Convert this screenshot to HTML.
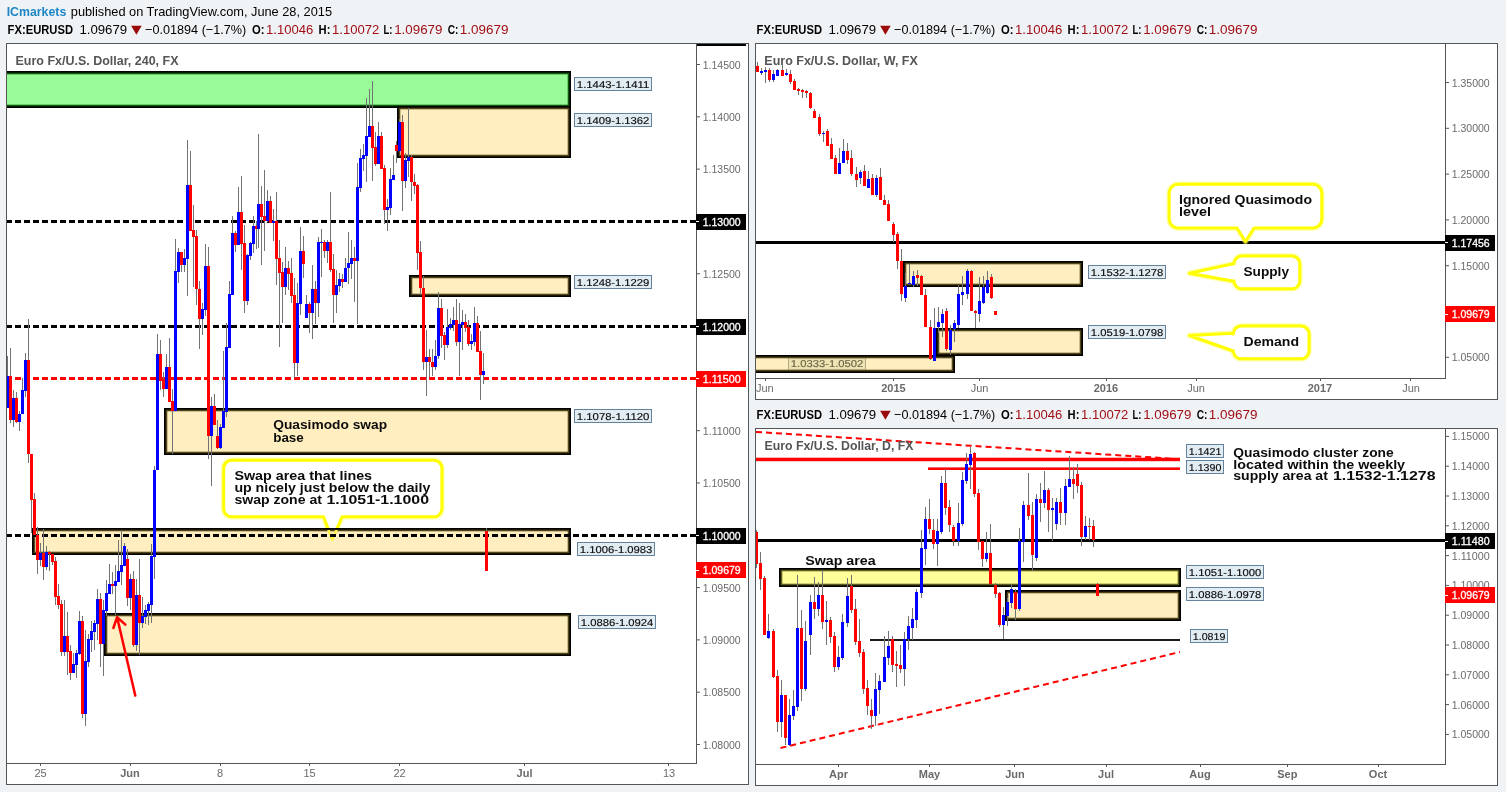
<!DOCTYPE html><html><head><meta charset="utf-8"><title>EURUSD</title><style>html,body{margin:0;padding:0;background:#f0f3f6;overflow:hidden}svg{display:block;will-change:transform;opacity:.999}text{font-family:"Liberation Sans",sans-serif;white-space:pre}</style></head><body>
<svg width="1506" height="792" viewBox="0 0 1506 792">
<rect x="0" y="0" width="1506" height="792" fill="#f0f3f6"/>
<text x="6.7" y="15.8" font-size="13" fill="#1c86c6" font-weight="bold" textLength="59.6" lengthAdjust="spacingAndGlyphs">ICmarkets</text>
<text x="70.8" y="15.8" font-size="13" fill="#000" textLength="261.2" lengthAdjust="spacingAndGlyphs">published on TradingView.com, June 28, 2015</text>
<text x="7.6" y="33.5" font-size="13" fill="#000" font-weight="bold" textLength="65.4" lengthAdjust="spacingAndGlyphs">FX:EURUSD</text>
<text x="79.4" y="33.5" font-size="13" fill="#000" textLength="47.8" lengthAdjust="spacingAndGlyphs">1.09679</text>
<path d="M131.1 25.7 h10.6 l-5.3 9 z" fill="#9b0a0a"/>
<text x="145" y="33.5" font-size="13" fill="#000" textLength="101.3" lengthAdjust="spacingAndGlyphs">&#8722;0.01894 (&#8722;1.7%)</text>
<text x="252" y="33.5" font-size="13" fill="#000" font-weight="bold" textLength="12.5" lengthAdjust="spacingAndGlyphs">O:</text>
<text x="266" y="33.5" font-size="13" fill="#a20e16" textLength="47.3" lengthAdjust="spacingAndGlyphs">1.10046</text>
<text x="318.6" y="33.5" font-size="13" fill="#000" font-weight="bold" textLength="11.8" lengthAdjust="spacingAndGlyphs">H:</text>
<text x="332" y="33.5" font-size="13" fill="#a20e16" textLength="47.3" lengthAdjust="spacingAndGlyphs">1.10072</text>
<text x="383.5" y="33.5" font-size="13" fill="#000" font-weight="bold" textLength="9" lengthAdjust="spacingAndGlyphs">L:</text>
<text x="394.2" y="33.5" font-size="13" fill="#a20e16" textLength="48.3" lengthAdjust="spacingAndGlyphs">1.09679</text>
<text x="447.7" y="33.5" font-size="13" fill="#000" font-weight="bold" textLength="10.7" lengthAdjust="spacingAndGlyphs">C:</text>
<text x="459.8" y="33.5" font-size="13" fill="#a20e16" textLength="48.7" lengthAdjust="spacingAndGlyphs">1.09679</text>
<text x="756.6" y="33.5" font-size="13" fill="#000" font-weight="bold" textLength="65.4" lengthAdjust="spacingAndGlyphs">FX:EURUSD</text>
<text x="828.4" y="33.5" font-size="13" fill="#000" textLength="47.8" lengthAdjust="spacingAndGlyphs">1.09679</text>
<path d="M880.1 25.7 h10.6 l-5.3 9 z" fill="#9b0a0a"/>
<text x="894" y="33.5" font-size="13" fill="#000" textLength="101.3" lengthAdjust="spacingAndGlyphs">&#8722;0.01894 (&#8722;1.7%)</text>
<text x="1001" y="33.5" font-size="13" fill="#000" font-weight="bold" textLength="12.5" lengthAdjust="spacingAndGlyphs">O:</text>
<text x="1015" y="33.5" font-size="13" fill="#a20e16" textLength="47.3" lengthAdjust="spacingAndGlyphs">1.10046</text>
<text x="1067.6" y="33.5" font-size="13" fill="#000" font-weight="bold" textLength="11.8" lengthAdjust="spacingAndGlyphs">H:</text>
<text x="1081" y="33.5" font-size="13" fill="#a20e16" textLength="47.3" lengthAdjust="spacingAndGlyphs">1.10072</text>
<text x="1132.5" y="33.5" font-size="13" fill="#000" font-weight="bold" textLength="9" lengthAdjust="spacingAndGlyphs">L:</text>
<text x="1143.2" y="33.5" font-size="13" fill="#a20e16" textLength="48.3" lengthAdjust="spacingAndGlyphs">1.09679</text>
<text x="1196.7" y="33.5" font-size="13" fill="#000" font-weight="bold" textLength="10.7" lengthAdjust="spacingAndGlyphs">C:</text>
<text x="1208.8" y="33.5" font-size="13" fill="#a20e16" textLength="48.7" lengthAdjust="spacingAndGlyphs">1.09679</text>
<text x="756.6" y="418.5" font-size="13" fill="#000" font-weight="bold" textLength="65.4" lengthAdjust="spacingAndGlyphs">FX:EURUSD</text>
<text x="828.4" y="418.5" font-size="13" fill="#000" textLength="47.8" lengthAdjust="spacingAndGlyphs">1.09679</text>
<path d="M880.1 410.7 h10.6 l-5.3 9 z" fill="#9b0a0a"/>
<text x="894" y="418.5" font-size="13" fill="#000" textLength="101.3" lengthAdjust="spacingAndGlyphs">&#8722;0.01894 (&#8722;1.7%)</text>
<text x="1001" y="418.5" font-size="13" fill="#000" font-weight="bold" textLength="12.5" lengthAdjust="spacingAndGlyphs">O:</text>
<text x="1015" y="418.5" font-size="13" fill="#a20e16" textLength="47.3" lengthAdjust="spacingAndGlyphs">1.10046</text>
<text x="1067.6" y="418.5" font-size="13" fill="#000" font-weight="bold" textLength="11.8" lengthAdjust="spacingAndGlyphs">H:</text>
<text x="1081" y="418.5" font-size="13" fill="#a20e16" textLength="47.3" lengthAdjust="spacingAndGlyphs">1.10072</text>
<text x="1132.5" y="418.5" font-size="13" fill="#000" font-weight="bold" textLength="9" lengthAdjust="spacingAndGlyphs">L:</text>
<text x="1143.2" y="418.5" font-size="13" fill="#a20e16" textLength="48.3" lengthAdjust="spacingAndGlyphs">1.09679</text>
<text x="1196.7" y="418.5" font-size="13" fill="#000" font-weight="bold" textLength="10.7" lengthAdjust="spacingAndGlyphs">C:</text>
<text x="1208.8" y="418.5" font-size="13" fill="#a20e16" textLength="48.7" lengthAdjust="spacingAndGlyphs">1.09679</text>
<g shape-rendering="crispEdges">
<rect x="6" y="43" width="743" height="742" fill="#555555"/>
<rect x="7" y="44" width="741" height="740" fill="#fff"/>
<rect x="696" y="43" width="1" height="721" fill="#555555"/>
<rect x="6" y="763" width="691" height="1" fill="#555555"/>
</g>
<svg x="7" y="44" width="689" height="719" viewBox="7 44 689 719">
<path d="M231.7 460.3 H433.9 A8 8 0 0 1 441.9 468.3 V508.8 A8 8 0 0 1 433.9 516.8 H342 L332.2 540 L323.6 516.8 H231.7 A8 8 0 0 1 223.7 508.8 V468.3 A8 8 0 0 1 231.7 460.3 Z" fill="none" stroke="#ffff66" stroke-opacity="0.55" stroke-width="5.5" stroke-linejoin="round"/>
<path d="M231.7 460.3 H433.9 A8 8 0 0 1 441.9 468.3 V508.8 A8 8 0 0 1 433.9 516.8 H342 L332.2 540 L323.6 516.8 H231.7 A8 8 0 0 1 223.7 508.8 V468.3 A8 8 0 0 1 231.7 460.3 Z" fill="#fff" stroke="#ffff00" stroke-width="3" stroke-linejoin="round"/>
<rect x="-5" y="71" width="576" height="37" fill="#000" shape-rendering="crispEdges"/>
<rect x="-3.3" y="72.7" width="572.6" height="33.6" fill="#0b5a0b"/>
<rect x="-1.7" y="74.3" width="569.4" height="30.4" fill="#98fb98"/>
<rect x="397" y="106" width="174" height="52" fill="#000" shape-rendering="crispEdges"/>
<rect x="398.7" y="107.7" width="170.6" height="48.6" fill="#54461a"/>
<rect x="400.3" y="109.3" width="167.4" height="45.4" fill="#ffefc0"/>
<rect x="409" y="275" width="162" height="22" fill="#000" shape-rendering="crispEdges"/>
<rect x="410.7" y="276.7" width="158.6" height="18.6" fill="#54461a"/>
<rect x="412.3" y="278.3" width="155.4" height="15.4" fill="#ffefc0"/>
<rect x="164" y="408" width="407" height="47" fill="#000" shape-rendering="crispEdges"/>
<rect x="165.7" y="409.7" width="403.6" height="43.6" fill="#54461a"/>
<rect x="167.3" y="411.3" width="400.4" height="40.4" fill="#ffefc0"/>
<rect x="32" y="528" width="539" height="27" fill="#000" shape-rendering="crispEdges"/>
<rect x="33.7" y="529.7" width="535.6" height="23.6" fill="#54461a"/>
<rect x="35.3" y="531.3" width="532.4" height="20.4" fill="#ffefc0"/>
<rect x="104" y="613" width="467" height="43" fill="#000" shape-rendering="crispEdges"/>
<rect x="105.7" y="614.7" width="463.6" height="39.6" fill="#54461a"/>
<rect x="107.3" y="616.3" width="460.4" height="36.4" fill="#ffefc0"/>
<clipPath id="cp1"><rect x="300" y="530" width="60" height="20"/></clipPath>
<path d="M342 516.8 L332.2 540 L323.6 516.8" fill="none" stroke="#fff04a" stroke-width="2.6" stroke-linejoin="round" clip-path="url(#cp1)"/>
<g shape-rendering="crispEdges">
<rect x="6" y="220" width="6" height="3" fill="#000"/>
<rect x="15" y="220" width="6" height="3" fill="#000"/>
<rect x="24" y="220" width="6" height="3" fill="#000"/>
<rect x="33" y="220" width="6" height="3" fill="#000"/>
<rect x="42" y="220" width="6" height="3" fill="#000"/>
<rect x="51" y="220" width="6" height="3" fill="#000"/>
<rect x="60" y="220" width="6" height="3" fill="#000"/>
<rect x="69" y="220" width="6" height="3" fill="#000"/>
<rect x="78" y="220" width="6" height="3" fill="#000"/>
<rect x="87" y="220" width="6" height="3" fill="#000"/>
<rect x="96" y="220" width="6" height="3" fill="#000"/>
<rect x="105" y="220" width="6" height="3" fill="#000"/>
<rect x="114" y="220" width="6" height="3" fill="#000"/>
<rect x="123" y="220" width="6" height="3" fill="#000"/>
<rect x="132" y="220" width="6" height="3" fill="#000"/>
<rect x="141" y="220" width="6" height="3" fill="#000"/>
<rect x="150" y="220" width="6" height="3" fill="#000"/>
<rect x="159" y="220" width="6" height="3" fill="#000"/>
<rect x="168" y="220" width="6" height="3" fill="#000"/>
<rect x="177" y="220" width="6" height="3" fill="#000"/>
<rect x="186" y="220" width="6" height="3" fill="#000"/>
<rect x="195" y="220" width="6" height="3" fill="#000"/>
<rect x="204" y="220" width="6" height="3" fill="#000"/>
<rect x="213" y="220" width="6" height="3" fill="#000"/>
<rect x="222" y="220" width="6" height="3" fill="#000"/>
<rect x="231" y="220" width="6" height="3" fill="#000"/>
<rect x="240" y="220" width="6" height="3" fill="#000"/>
<rect x="249" y="220" width="6" height="3" fill="#000"/>
<rect x="258" y="220" width="6" height="3" fill="#000"/>
<rect x="267" y="220" width="6" height="3" fill="#000"/>
<rect x="276" y="220" width="6" height="3" fill="#000"/>
<rect x="285" y="220" width="6" height="3" fill="#000"/>
<rect x="294" y="220" width="6" height="3" fill="#000"/>
<rect x="303" y="220" width="6" height="3" fill="#000"/>
<rect x="312" y="220" width="6" height="3" fill="#000"/>
<rect x="321" y="220" width="6" height="3" fill="#000"/>
<rect x="330" y="220" width="6" height="3" fill="#000"/>
<rect x="339" y="220" width="6" height="3" fill="#000"/>
<rect x="348" y="220" width="6" height="3" fill="#000"/>
<rect x="357" y="220" width="6" height="3" fill="#000"/>
<rect x="366" y="220" width="6" height="3" fill="#000"/>
<rect x="375" y="220" width="6" height="3" fill="#000"/>
<rect x="384" y="220" width="6" height="3" fill="#000"/>
<rect x="393" y="220" width="6" height="3" fill="#000"/>
<rect x="402" y="220" width="6" height="3" fill="#000"/>
<rect x="411" y="220" width="6" height="3" fill="#000"/>
<rect x="420" y="220" width="6" height="3" fill="#000"/>
<rect x="429" y="220" width="6" height="3" fill="#000"/>
<rect x="438" y="220" width="6" height="3" fill="#000"/>
<rect x="447" y="220" width="6" height="3" fill="#000"/>
<rect x="456" y="220" width="6" height="3" fill="#000"/>
<rect x="465" y="220" width="6" height="3" fill="#000"/>
<rect x="474" y="220" width="6" height="3" fill="#000"/>
<rect x="483" y="220" width="6" height="3" fill="#000"/>
<rect x="492" y="220" width="6" height="3" fill="#000"/>
<rect x="501" y="220" width="6" height="3" fill="#000"/>
<rect x="510" y="220" width="6" height="3" fill="#000"/>
<rect x="519" y="220" width="6" height="3" fill="#000"/>
<rect x="528" y="220" width="6" height="3" fill="#000"/>
<rect x="537" y="220" width="6" height="3" fill="#000"/>
<rect x="546" y="220" width="6" height="3" fill="#000"/>
<rect x="555" y="220" width="6" height="3" fill="#000"/>
<rect x="564" y="220" width="6" height="3" fill="#000"/>
<rect x="573" y="220" width="6" height="3" fill="#000"/>
<rect x="582" y="220" width="6" height="3" fill="#000"/>
<rect x="591" y="220" width="6" height="3" fill="#000"/>
<rect x="600" y="220" width="6" height="3" fill="#000"/>
<rect x="609" y="220" width="6" height="3" fill="#000"/>
<rect x="618" y="220" width="6" height="3" fill="#000"/>
<rect x="627" y="220" width="6" height="3" fill="#000"/>
<rect x="636" y="220" width="6" height="3" fill="#000"/>
<rect x="645" y="220" width="6" height="3" fill="#000"/>
<rect x="654" y="220" width="6" height="3" fill="#000"/>
<rect x="663" y="220" width="6" height="3" fill="#000"/>
<rect x="672" y="220" width="6" height="3" fill="#000"/>
<rect x="681" y="220" width="6" height="3" fill="#000"/>
<rect x="690" y="220" width="6" height="3" fill="#000"/>
<rect x="6" y="325" width="6" height="3" fill="#000"/>
<rect x="15" y="325" width="6" height="3" fill="#000"/>
<rect x="24" y="325" width="6" height="3" fill="#000"/>
<rect x="33" y="325" width="6" height="3" fill="#000"/>
<rect x="42" y="325" width="6" height="3" fill="#000"/>
<rect x="51" y="325" width="6" height="3" fill="#000"/>
<rect x="60" y="325" width="6" height="3" fill="#000"/>
<rect x="69" y="325" width="6" height="3" fill="#000"/>
<rect x="78" y="325" width="6" height="3" fill="#000"/>
<rect x="87" y="325" width="6" height="3" fill="#000"/>
<rect x="96" y="325" width="6" height="3" fill="#000"/>
<rect x="105" y="325" width="6" height="3" fill="#000"/>
<rect x="114" y="325" width="6" height="3" fill="#000"/>
<rect x="123" y="325" width="6" height="3" fill="#000"/>
<rect x="132" y="325" width="6" height="3" fill="#000"/>
<rect x="141" y="325" width="6" height="3" fill="#000"/>
<rect x="150" y="325" width="6" height="3" fill="#000"/>
<rect x="159" y="325" width="6" height="3" fill="#000"/>
<rect x="168" y="325" width="6" height="3" fill="#000"/>
<rect x="177" y="325" width="6" height="3" fill="#000"/>
<rect x="186" y="325" width="6" height="3" fill="#000"/>
<rect x="195" y="325" width="6" height="3" fill="#000"/>
<rect x="204" y="325" width="6" height="3" fill="#000"/>
<rect x="213" y="325" width="6" height="3" fill="#000"/>
<rect x="222" y="325" width="6" height="3" fill="#000"/>
<rect x="231" y="325" width="6" height="3" fill="#000"/>
<rect x="240" y="325" width="6" height="3" fill="#000"/>
<rect x="249" y="325" width="6" height="3" fill="#000"/>
<rect x="258" y="325" width="6" height="3" fill="#000"/>
<rect x="267" y="325" width="6" height="3" fill="#000"/>
<rect x="276" y="325" width="6" height="3" fill="#000"/>
<rect x="285" y="325" width="6" height="3" fill="#000"/>
<rect x="294" y="325" width="6" height="3" fill="#000"/>
<rect x="303" y="325" width="6" height="3" fill="#000"/>
<rect x="312" y="325" width="6" height="3" fill="#000"/>
<rect x="321" y="325" width="6" height="3" fill="#000"/>
<rect x="330" y="325" width="6" height="3" fill="#000"/>
<rect x="339" y="325" width="6" height="3" fill="#000"/>
<rect x="348" y="325" width="6" height="3" fill="#000"/>
<rect x="357" y="325" width="6" height="3" fill="#000"/>
<rect x="366" y="325" width="6" height="3" fill="#000"/>
<rect x="375" y="325" width="6" height="3" fill="#000"/>
<rect x="384" y="325" width="6" height="3" fill="#000"/>
<rect x="393" y="325" width="6" height="3" fill="#000"/>
<rect x="402" y="325" width="6" height="3" fill="#000"/>
<rect x="411" y="325" width="6" height="3" fill="#000"/>
<rect x="420" y="325" width="6" height="3" fill="#000"/>
<rect x="429" y="325" width="6" height="3" fill="#000"/>
<rect x="438" y="325" width="6" height="3" fill="#000"/>
<rect x="447" y="325" width="6" height="3" fill="#000"/>
<rect x="456" y="325" width="6" height="3" fill="#000"/>
<rect x="465" y="325" width="6" height="3" fill="#000"/>
<rect x="474" y="325" width="6" height="3" fill="#000"/>
<rect x="483" y="325" width="6" height="3" fill="#000"/>
<rect x="492" y="325" width="6" height="3" fill="#000"/>
<rect x="501" y="325" width="6" height="3" fill="#000"/>
<rect x="510" y="325" width="6" height="3" fill="#000"/>
<rect x="519" y="325" width="6" height="3" fill="#000"/>
<rect x="528" y="325" width="6" height="3" fill="#000"/>
<rect x="537" y="325" width="6" height="3" fill="#000"/>
<rect x="546" y="325" width="6" height="3" fill="#000"/>
<rect x="555" y="325" width="6" height="3" fill="#000"/>
<rect x="564" y="325" width="6" height="3" fill="#000"/>
<rect x="573" y="325" width="6" height="3" fill="#000"/>
<rect x="582" y="325" width="6" height="3" fill="#000"/>
<rect x="591" y="325" width="6" height="3" fill="#000"/>
<rect x="600" y="325" width="6" height="3" fill="#000"/>
<rect x="609" y="325" width="6" height="3" fill="#000"/>
<rect x="618" y="325" width="6" height="3" fill="#000"/>
<rect x="627" y="325" width="6" height="3" fill="#000"/>
<rect x="636" y="325" width="6" height="3" fill="#000"/>
<rect x="645" y="325" width="6" height="3" fill="#000"/>
<rect x="654" y="325" width="6" height="3" fill="#000"/>
<rect x="663" y="325" width="6" height="3" fill="#000"/>
<rect x="672" y="325" width="6" height="3" fill="#000"/>
<rect x="681" y="325" width="6" height="3" fill="#000"/>
<rect x="690" y="325" width="6" height="3" fill="#000"/>
<rect x="6" y="377" width="6" height="3" fill="#ff0000"/>
<rect x="15" y="377" width="6" height="3" fill="#ff0000"/>
<rect x="24" y="377" width="6" height="3" fill="#ff0000"/>
<rect x="33" y="377" width="6" height="3" fill="#ff0000"/>
<rect x="42" y="377" width="6" height="3" fill="#ff0000"/>
<rect x="51" y="377" width="6" height="3" fill="#ff0000"/>
<rect x="60" y="377" width="6" height="3" fill="#ff0000"/>
<rect x="69" y="377" width="6" height="3" fill="#ff0000"/>
<rect x="78" y="377" width="6" height="3" fill="#ff0000"/>
<rect x="87" y="377" width="6" height="3" fill="#ff0000"/>
<rect x="96" y="377" width="6" height="3" fill="#ff0000"/>
<rect x="105" y="377" width="6" height="3" fill="#ff0000"/>
<rect x="114" y="377" width="6" height="3" fill="#ff0000"/>
<rect x="123" y="377" width="6" height="3" fill="#ff0000"/>
<rect x="132" y="377" width="6" height="3" fill="#ff0000"/>
<rect x="141" y="377" width="6" height="3" fill="#ff0000"/>
<rect x="150" y="377" width="6" height="3" fill="#ff0000"/>
<rect x="159" y="377" width="6" height="3" fill="#ff0000"/>
<rect x="168" y="377" width="6" height="3" fill="#ff0000"/>
<rect x="177" y="377" width="6" height="3" fill="#ff0000"/>
<rect x="186" y="377" width="6" height="3" fill="#ff0000"/>
<rect x="195" y="377" width="6" height="3" fill="#ff0000"/>
<rect x="204" y="377" width="6" height="3" fill="#ff0000"/>
<rect x="213" y="377" width="6" height="3" fill="#ff0000"/>
<rect x="222" y="377" width="6" height="3" fill="#ff0000"/>
<rect x="231" y="377" width="6" height="3" fill="#ff0000"/>
<rect x="240" y="377" width="6" height="3" fill="#ff0000"/>
<rect x="249" y="377" width="6" height="3" fill="#ff0000"/>
<rect x="258" y="377" width="6" height="3" fill="#ff0000"/>
<rect x="267" y="377" width="6" height="3" fill="#ff0000"/>
<rect x="276" y="377" width="6" height="3" fill="#ff0000"/>
<rect x="285" y="377" width="6" height="3" fill="#ff0000"/>
<rect x="294" y="377" width="6" height="3" fill="#ff0000"/>
<rect x="303" y="377" width="6" height="3" fill="#ff0000"/>
<rect x="312" y="377" width="6" height="3" fill="#ff0000"/>
<rect x="321" y="377" width="6" height="3" fill="#ff0000"/>
<rect x="330" y="377" width="6" height="3" fill="#ff0000"/>
<rect x="339" y="377" width="6" height="3" fill="#ff0000"/>
<rect x="348" y="377" width="6" height="3" fill="#ff0000"/>
<rect x="357" y="377" width="6" height="3" fill="#ff0000"/>
<rect x="366" y="377" width="6" height="3" fill="#ff0000"/>
<rect x="375" y="377" width="6" height="3" fill="#ff0000"/>
<rect x="384" y="377" width="6" height="3" fill="#ff0000"/>
<rect x="393" y="377" width="6" height="3" fill="#ff0000"/>
<rect x="402" y="377" width="6" height="3" fill="#ff0000"/>
<rect x="411" y="377" width="6" height="3" fill="#ff0000"/>
<rect x="420" y="377" width="6" height="3" fill="#ff0000"/>
<rect x="429" y="377" width="6" height="3" fill="#ff0000"/>
<rect x="438" y="377" width="6" height="3" fill="#ff0000"/>
<rect x="447" y="377" width="6" height="3" fill="#ff0000"/>
<rect x="456" y="377" width="6" height="3" fill="#ff0000"/>
<rect x="465" y="377" width="6" height="3" fill="#ff0000"/>
<rect x="474" y="377" width="6" height="3" fill="#ff0000"/>
<rect x="483" y="377" width="6" height="3" fill="#ff0000"/>
<rect x="492" y="377" width="6" height="3" fill="#ff0000"/>
<rect x="501" y="377" width="6" height="3" fill="#ff0000"/>
<rect x="510" y="377" width="6" height="3" fill="#ff0000"/>
<rect x="519" y="377" width="6" height="3" fill="#ff0000"/>
<rect x="528" y="377" width="6" height="3" fill="#ff0000"/>
<rect x="537" y="377" width="6" height="3" fill="#ff0000"/>
<rect x="546" y="377" width="6" height="3" fill="#ff0000"/>
<rect x="555" y="377" width="6" height="3" fill="#ff0000"/>
<rect x="564" y="377" width="6" height="3" fill="#ff0000"/>
<rect x="573" y="377" width="6" height="3" fill="#ff0000"/>
<rect x="582" y="377" width="6" height="3" fill="#ff0000"/>
<rect x="591" y="377" width="6" height="3" fill="#ff0000"/>
<rect x="600" y="377" width="6" height="3" fill="#ff0000"/>
<rect x="609" y="377" width="6" height="3" fill="#ff0000"/>
<rect x="618" y="377" width="6" height="3" fill="#ff0000"/>
<rect x="627" y="377" width="6" height="3" fill="#ff0000"/>
<rect x="636" y="377" width="6" height="3" fill="#ff0000"/>
<rect x="645" y="377" width="6" height="3" fill="#ff0000"/>
<rect x="654" y="377" width="6" height="3" fill="#ff0000"/>
<rect x="663" y="377" width="6" height="3" fill="#ff0000"/>
<rect x="672" y="377" width="6" height="3" fill="#ff0000"/>
<rect x="681" y="377" width="6" height="3" fill="#ff0000"/>
<rect x="690" y="377" width="6" height="3" fill="#ff0000"/>
<rect x="6" y="534" width="6" height="3" fill="#000"/>
<rect x="15" y="534" width="6" height="3" fill="#000"/>
<rect x="24" y="534" width="6" height="3" fill="#000"/>
<rect x="33" y="534" width="6" height="3" fill="#000"/>
<rect x="42" y="534" width="6" height="3" fill="#000"/>
<rect x="51" y="534" width="6" height="3" fill="#000"/>
<rect x="60" y="534" width="6" height="3" fill="#000"/>
<rect x="69" y="534" width="6" height="3" fill="#000"/>
<rect x="78" y="534" width="6" height="3" fill="#000"/>
<rect x="87" y="534" width="6" height="3" fill="#000"/>
<rect x="96" y="534" width="6" height="3" fill="#000"/>
<rect x="105" y="534" width="6" height="3" fill="#000"/>
<rect x="114" y="534" width="6" height="3" fill="#000"/>
<rect x="123" y="534" width="6" height="3" fill="#000"/>
<rect x="132" y="534" width="6" height="3" fill="#000"/>
<rect x="141" y="534" width="6" height="3" fill="#000"/>
<rect x="150" y="534" width="6" height="3" fill="#000"/>
<rect x="159" y="534" width="6" height="3" fill="#000"/>
<rect x="168" y="534" width="6" height="3" fill="#000"/>
<rect x="177" y="534" width="6" height="3" fill="#000"/>
<rect x="186" y="534" width="6" height="3" fill="#000"/>
<rect x="195" y="534" width="6" height="3" fill="#000"/>
<rect x="204" y="534" width="6" height="3" fill="#000"/>
<rect x="213" y="534" width="6" height="3" fill="#000"/>
<rect x="222" y="534" width="6" height="3" fill="#000"/>
<rect x="231" y="534" width="6" height="3" fill="#000"/>
<rect x="240" y="534" width="6" height="3" fill="#000"/>
<rect x="249" y="534" width="6" height="3" fill="#000"/>
<rect x="258" y="534" width="6" height="3" fill="#000"/>
<rect x="267" y="534" width="6" height="3" fill="#000"/>
<rect x="276" y="534" width="6" height="3" fill="#000"/>
<rect x="285" y="534" width="6" height="3" fill="#000"/>
<rect x="294" y="534" width="6" height="3" fill="#000"/>
<rect x="303" y="534" width="6" height="3" fill="#000"/>
<rect x="312" y="534" width="6" height="3" fill="#000"/>
<rect x="321" y="534" width="6" height="3" fill="#000"/>
<rect x="330" y="534" width="6" height="3" fill="#000"/>
<rect x="339" y="534" width="6" height="3" fill="#000"/>
<rect x="348" y="534" width="6" height="3" fill="#000"/>
<rect x="357" y="534" width="6" height="3" fill="#000"/>
<rect x="366" y="534" width="6" height="3" fill="#000"/>
<rect x="375" y="534" width="6" height="3" fill="#000"/>
<rect x="384" y="534" width="6" height="3" fill="#000"/>
<rect x="393" y="534" width="6" height="3" fill="#000"/>
<rect x="402" y="534" width="6" height="3" fill="#000"/>
<rect x="411" y="534" width="6" height="3" fill="#000"/>
<rect x="420" y="534" width="6" height="3" fill="#000"/>
<rect x="429" y="534" width="6" height="3" fill="#000"/>
<rect x="438" y="534" width="6" height="3" fill="#000"/>
<rect x="447" y="534" width="6" height="3" fill="#000"/>
<rect x="456" y="534" width="6" height="3" fill="#000"/>
<rect x="465" y="534" width="6" height="3" fill="#000"/>
<rect x="474" y="534" width="6" height="3" fill="#000"/>
<rect x="483" y="534" width="6" height="3" fill="#000"/>
<rect x="492" y="534" width="6" height="3" fill="#000"/>
<rect x="501" y="534" width="6" height="3" fill="#000"/>
<rect x="510" y="534" width="6" height="3" fill="#000"/>
<rect x="519" y="534" width="6" height="3" fill="#000"/>
<rect x="528" y="534" width="6" height="3" fill="#000"/>
<rect x="537" y="534" width="6" height="3" fill="#000"/>
<rect x="546" y="534" width="6" height="3" fill="#000"/>
<rect x="555" y="534" width="6" height="3" fill="#000"/>
<rect x="564" y="534" width="6" height="3" fill="#000"/>
<rect x="573" y="534" width="6" height="3" fill="#000"/>
<rect x="582" y="534" width="6" height="3" fill="#000"/>
<rect x="591" y="534" width="6" height="3" fill="#000"/>
<rect x="600" y="534" width="6" height="3" fill="#000"/>
<rect x="609" y="534" width="6" height="3" fill="#000"/>
<rect x="618" y="534" width="6" height="3" fill="#000"/>
<rect x="627" y="534" width="6" height="3" fill="#000"/>
<rect x="636" y="534" width="6" height="3" fill="#000"/>
<rect x="645" y="534" width="6" height="3" fill="#000"/>
<rect x="654" y="534" width="6" height="3" fill="#000"/>
<rect x="663" y="534" width="6" height="3" fill="#000"/>
<rect x="672" y="534" width="6" height="3" fill="#000"/>
<rect x="681" y="534" width="6" height="3" fill="#000"/>
<rect x="690" y="534" width="6" height="3" fill="#000"/>
</g>
<g shape-rendering="crispEdges">
<rect x="7" y="356" width="1" height="52" fill="#737375"/>
<rect x="10" y="348" width="1" height="75" fill="#737375"/>
<rect x="13" y="390" width="1" height="37" fill="#737375"/>
<rect x="16" y="392" width="1" height="31" fill="#737375"/>
<rect x="19" y="411" width="1" height="20" fill="#737375"/>
<rect x="22" y="378" width="1" height="36" fill="#737375"/>
<rect x="25" y="353" width="1" height="44" fill="#737375"/>
<rect x="28" y="319" width="1" height="144" fill="#737375"/>
<rect x="31" y="454" width="1" height="79" fill="#737375"/>
<rect x="34" y="493" width="1" height="42" fill="#737375"/>
<rect x="37" y="527" width="1" height="47" fill="#737375"/>
<rect x="40" y="543" width="1" height="23" fill="#737375"/>
<rect x="43" y="529" width="1" height="51" fill="#737375"/>
<rect x="46" y="546" width="1" height="24" fill="#737375"/>
<rect x="49" y="551" width="1" height="20" fill="#737375"/>
<rect x="52" y="554" width="1" height="11" fill="#737375"/>
<rect x="55" y="557" width="1" height="48" fill="#737375"/>
<rect x="58" y="584" width="1" height="25" fill="#737375"/>
<rect x="61" y="600" width="1" height="56" fill="#737375"/>
<rect x="64" y="600" width="1" height="56" fill="#737375"/>
<rect x="67" y="612" width="1" height="63" fill="#737375"/>
<rect x="70" y="645" width="1" height="35" fill="#737375"/>
<rect x="73" y="653" width="1" height="20" fill="#737375"/>
<rect x="76" y="650" width="1" height="28" fill="#737375"/>
<rect x="79" y="611" width="1" height="44" fill="#737375"/>
<rect x="82" y="616" width="1" height="102" fill="#737375"/>
<rect x="85" y="630" width="1" height="96" fill="#737375"/>
<rect x="88" y="634" width="1" height="33" fill="#737375"/>
<rect x="91" y="621" width="1" height="31" fill="#737375"/>
<rect x="94" y="620" width="1" height="30" fill="#737375"/>
<rect x="97" y="589" width="1" height="51" fill="#737375"/>
<rect x="100" y="593" width="1" height="74" fill="#737375"/>
<rect x="103" y="600" width="1" height="76" fill="#737375"/>
<rect x="106" y="580" width="1" height="36" fill="#737375"/>
<rect x="109" y="564" width="1" height="30" fill="#737375"/>
<rect x="112" y="572" width="1" height="22" fill="#737375"/>
<rect x="115" y="565" width="1" height="50" fill="#737375"/>
<rect x="118" y="540" width="1" height="42" fill="#737375"/>
<rect x="121" y="530" width="1" height="55" fill="#737375"/>
<rect x="124" y="543" width="1" height="23" fill="#737375"/>
<rect x="127" y="549" width="1" height="57" fill="#737375"/>
<rect x="130" y="574" width="1" height="36" fill="#737375"/>
<rect x="133" y="571" width="1" height="76" fill="#737375"/>
<rect x="136" y="579" width="1" height="72" fill="#737375"/>
<rect x="139" y="559" width="1" height="96" fill="#737375"/>
<rect x="142" y="597" width="1" height="31" fill="#737375"/>
<rect x="145" y="605" width="1" height="19" fill="#737375"/>
<rect x="148" y="602" width="1" height="23" fill="#737375"/>
<rect x="151" y="544" width="1" height="79" fill="#737375"/>
<rect x="154" y="466" width="1" height="113" fill="#737375"/>
<rect x="157" y="334" width="1" height="136" fill="#737375"/>
<rect x="160" y="340" width="1" height="50" fill="#737375"/>
<rect x="163" y="372" width="1" height="25" fill="#737375"/>
<rect x="166" y="354" width="1" height="35" fill="#737375"/>
<rect x="169" y="338" width="1" height="64" fill="#737375"/>
<rect x="172" y="389" width="1" height="65" fill="#737375"/>
<rect x="175" y="239" width="1" height="172" fill="#737375"/>
<rect x="178" y="248" width="1" height="35" fill="#737375"/>
<rect x="181" y="252" width="1" height="20" fill="#737375"/>
<rect x="184" y="249" width="1" height="23" fill="#737375"/>
<rect x="187" y="140" width="1" height="156" fill="#737375"/>
<rect x="190" y="151" width="1" height="80" fill="#737375"/>
<rect x="193" y="205" width="1" height="82" fill="#737375"/>
<rect x="196" y="230" width="1" height="75" fill="#737375"/>
<rect x="199" y="281" width="1" height="68" fill="#737375"/>
<rect x="202" y="303" width="1" height="32" fill="#737375"/>
<rect x="205" y="244" width="1" height="72" fill="#737375"/>
<rect x="208" y="247" width="1" height="212" fill="#737375"/>
<rect x="211" y="397" width="1" height="89" fill="#737375"/>
<rect x="214" y="394" width="1" height="31" fill="#737375"/>
<rect x="217" y="420" width="1" height="29" fill="#737375"/>
<rect x="220" y="424" width="1" height="25" fill="#737375"/>
<rect x="223" y="351" width="1" height="77" fill="#737375"/>
<rect x="226" y="323" width="1" height="94" fill="#737375"/>
<rect x="229" y="281" width="1" height="67" fill="#737375"/>
<rect x="232" y="216" width="1" height="79" fill="#737375"/>
<rect x="235" y="231" width="1" height="21" fill="#737375"/>
<rect x="238" y="187" width="1" height="58" fill="#737375"/>
<rect x="241" y="176" width="1" height="94" fill="#737375"/>
<rect x="244" y="225" width="1" height="88" fill="#737375"/>
<rect x="247" y="254" width="1" height="51" fill="#737375"/>
<rect x="250" y="242" width="1" height="18" fill="#737375"/>
<rect x="253" y="216" width="1" height="37" fill="#737375"/>
<rect x="256" y="221" width="1" height="28" fill="#737375"/>
<rect x="258" y="134" width="1" height="114" fill="#737375"/>
<rect x="261" y="186" width="1" height="79" fill="#737375"/>
<rect x="264" y="170" width="1" height="81" fill="#737375"/>
<rect x="267" y="190" width="1" height="32" fill="#737375"/>
<rect x="270" y="196" width="1" height="27" fill="#737375"/>
<rect x="273" y="209" width="1" height="32" fill="#737375"/>
<rect x="276" y="192" width="1" height="93" fill="#737375"/>
<rect x="279" y="240" width="1" height="107" fill="#737375"/>
<rect x="282" y="262" width="1" height="61" fill="#737375"/>
<rect x="285" y="247" width="1" height="48" fill="#737375"/>
<rect x="288" y="261" width="1" height="29" fill="#737375"/>
<rect x="291" y="258" width="1" height="45" fill="#737375"/>
<rect x="294" y="278" width="1" height="100" fill="#737375"/>
<rect x="297" y="283" width="1" height="93" fill="#737375"/>
<rect x="300" y="227" width="1" height="88" fill="#737375"/>
<rect x="303" y="236" width="1" height="42" fill="#737375"/>
<rect x="306" y="295" width="1" height="23" fill="#737375"/>
<rect x="309" y="302" width="1" height="31" fill="#737375"/>
<rect x="312" y="265" width="1" height="74" fill="#737375"/>
<rect x="315" y="281" width="1" height="43" fill="#737375"/>
<rect x="318" y="237" width="1" height="80" fill="#737375"/>
<rect x="321" y="229" width="1" height="48" fill="#737375"/>
<rect x="324" y="240" width="1" height="18" fill="#737375"/>
<rect x="327" y="240" width="1" height="23" fill="#737375"/>
<rect x="330" y="192" width="1" height="80" fill="#737375"/>
<rect x="333" y="254" width="1" height="69" fill="#737375"/>
<rect x="336" y="270" width="1" height="43" fill="#737375"/>
<rect x="339" y="273" width="1" height="19" fill="#737375"/>
<rect x="342" y="274" width="1" height="14" fill="#737375"/>
<rect x="345" y="258" width="1" height="24" fill="#737375"/>
<rect x="348" y="232" width="1" height="52" fill="#737375"/>
<rect x="351" y="240" width="1" height="39" fill="#737375"/>
<rect x="354" y="247" width="1" height="55" fill="#737375"/>
<rect x="357" y="163" width="1" height="161" fill="#737375"/>
<rect x="360" y="149" width="1" height="43" fill="#737375"/>
<rect x="363" y="144" width="1" height="27" fill="#737375"/>
<rect x="366" y="98" width="1" height="84" fill="#737375"/>
<rect x="369" y="89" width="1" height="48" fill="#737375"/>
<rect x="372" y="81" width="1" height="100" fill="#737375"/>
<rect x="375" y="132" width="1" height="34" fill="#737375"/>
<rect x="378" y="122" width="1" height="42" fill="#737375"/>
<rect x="381" y="132" width="1" height="37" fill="#737375"/>
<rect x="384" y="165" width="1" height="59" fill="#737375"/>
<rect x="387" y="199" width="1" height="32" fill="#737375"/>
<rect x="390" y="168" width="1" height="47" fill="#737375"/>
<rect x="393" y="155" width="1" height="25" fill="#737375"/>
<rect x="396" y="141" width="1" height="22" fill="#737375"/>
<rect x="399" y="119" width="1" height="32" fill="#737375"/>
<rect x="402" y="115" width="1" height="96" fill="#737375"/>
<rect x="405" y="153" width="1" height="35" fill="#737375"/>
<rect x="408" y="108" width="1" height="69" fill="#737375"/>
<rect x="411" y="155" width="1" height="46" fill="#737375"/>
<rect x="414" y="174" width="1" height="20" fill="#737375"/>
<rect x="417" y="184" width="1" height="86" fill="#737375"/>
<rect x="420" y="241" width="1" height="54" fill="#737375"/>
<rect x="423" y="276" width="1" height="94" fill="#737375"/>
<rect x="426" y="330" width="1" height="66" fill="#737375"/>
<rect x="429" y="349" width="1" height="28" fill="#737375"/>
<rect x="432" y="349" width="1" height="27" fill="#737375"/>
<rect x="435" y="340" width="1" height="30" fill="#737375"/>
<rect x="438" y="292" width="1" height="67" fill="#737375"/>
<rect x="441" y="299" width="1" height="49" fill="#737375"/>
<rect x="444" y="332" width="1" height="28" fill="#737375"/>
<rect x="447" y="309" width="1" height="39" fill="#737375"/>
<rect x="450" y="318" width="1" height="12" fill="#737375"/>
<rect x="453" y="307" width="1" height="24" fill="#737375"/>
<rect x="456" y="299" width="1" height="47" fill="#737375"/>
<rect x="459" y="303" width="1" height="73" fill="#737375"/>
<rect x="462" y="310" width="1" height="40" fill="#737375"/>
<rect x="465" y="314" width="1" height="18" fill="#737375"/>
<rect x="468" y="320" width="1" height="26" fill="#737375"/>
<rect x="471" y="334" width="1" height="16" fill="#737375"/>
<rect x="474" y="307" width="1" height="39" fill="#737375"/>
<rect x="477" y="316" width="1" height="36" fill="#737375"/>
<rect x="480" y="331" width="1" height="69" fill="#737375"/>
<rect x="483" y="353" width="1" height="31" fill="#737375"/>
<rect x="486" y="528" width="1" height="43" fill="#737375"/>
<rect x="6" y="376" width="3" height="32" fill="#0000ff"/>
<rect x="9" y="376" width="3" height="44" fill="#ff0000"/>
<rect x="12" y="398" width="3" height="22" fill="#0000ff"/>
<rect x="15" y="398" width="3" height="24" fill="#ff0000"/>
<rect x="18" y="414" width="3" height="8" fill="#0000ff"/>
<rect x="21" y="390" width="3" height="24" fill="#0000ff"/>
<rect x="24" y="360" width="3" height="31" fill="#0000ff"/>
<rect x="27" y="360" width="3" height="94" fill="#ff0000"/>
<rect x="30" y="454" width="3" height="46" fill="#ff0000"/>
<rect x="33" y="499" width="3" height="36" fill="#ff0000"/>
<rect x="36" y="535" width="3" height="25" fill="#ff0000"/>
<rect x="39" y="553" width="3" height="7" fill="#0000ff"/>
<rect x="42" y="553" width="3" height="14" fill="#ff0000"/>
<rect x="45" y="552" width="3" height="15" fill="#0000ff"/>
<rect x="48" y="552" width="3" height="2" fill="#ff0000"/>
<rect x="51" y="554" width="3" height="8" fill="#ff0000"/>
<rect x="54" y="561" width="3" height="36" fill="#ff0000"/>
<rect x="57" y="596" width="3" height="9" fill="#ff0000"/>
<rect x="60" y="604" width="3" height="48" fill="#ff0000"/>
<rect x="63" y="636" width="3" height="16" fill="#0000ff"/>
<rect x="66" y="636" width="3" height="16" fill="#ff0000"/>
<rect x="69" y="651" width="3" height="22" fill="#ff0000"/>
<rect x="72" y="664" width="3" height="9" fill="#0000ff"/>
<rect x="75" y="653" width="3" height="12" fill="#0000ff"/>
<rect x="78" y="621" width="3" height="33" fill="#0000ff"/>
<rect x="81" y="621" width="3" height="93" fill="#ff0000"/>
<rect x="84" y="661" width="3" height="53" fill="#0000ff"/>
<rect x="87" y="639" width="3" height="23" fill="#0000ff"/>
<rect x="90" y="631" width="3" height="9" fill="#0000ff"/>
<rect x="93" y="623" width="3" height="9" fill="#0000ff"/>
<rect x="96" y="599" width="3" height="25" fill="#0000ff"/>
<rect x="99" y="599" width="3" height="45" fill="#ff0000"/>
<rect x="102" y="610" width="3" height="34" fill="#0000ff"/>
<rect x="105" y="593" width="3" height="18" fill="#0000ff"/>
<rect x="108" y="584" width="3" height="10" fill="#0000ff"/>
<rect x="111" y="584" width="3" height="2" fill="#ff0000"/>
<rect x="114" y="581" width="3" height="5" fill="#0000ff"/>
<rect x="117" y="571" width="3" height="11" fill="#0000ff"/>
<rect x="120" y="565" width="3" height="7" fill="#0000ff"/>
<rect x="123" y="546" width="3" height="20" fill="#0000ff"/>
<rect x="126" y="559" width="3" height="39" fill="#ff0000"/>
<rect x="129" y="579" width="3" height="19" fill="#0000ff"/>
<rect x="132" y="579" width="3" height="66" fill="#ff0000"/>
<rect x="135" y="595" width="3" height="50" fill="#0000ff"/>
<rect x="138" y="595" width="3" height="28" fill="#ff0000"/>
<rect x="141" y="616" width="3" height="7" fill="#0000ff"/>
<rect x="144" y="610" width="3" height="7" fill="#0000ff"/>
<rect x="147" y="604" width="3" height="7" fill="#0000ff"/>
<rect x="150" y="556" width="3" height="49" fill="#0000ff"/>
<rect x="153" y="470" width="3" height="87" fill="#0000ff"/>
<rect x="156" y="354" width="3" height="116" fill="#0000ff"/>
<rect x="159" y="354" width="3" height="27" fill="#ff0000"/>
<rect x="162" y="379" width="3" height="10" fill="#ff0000"/>
<rect x="165" y="367" width="3" height="22" fill="#0000ff"/>
<rect x="168" y="367" width="3" height="35" fill="#ff0000"/>
<rect x="171" y="401" width="3" height="10" fill="#ff0000"/>
<rect x="174" y="271" width="3" height="140" fill="#0000ff"/>
<rect x="177" y="252" width="3" height="20" fill="#0000ff"/>
<rect x="180" y="252" width="3" height="13" fill="#ff0000"/>
<rect x="183" y="258" width="3" height="7" fill="#0000ff"/>
<rect x="186" y="185" width="3" height="74" fill="#0000ff"/>
<rect x="189" y="185" width="3" height="46" fill="#ff0000"/>
<rect x="192" y="230" width="3" height="7" fill="#ff0000"/>
<rect x="195" y="236" width="3" height="53" fill="#ff0000"/>
<rect x="198" y="289" width="3" height="30" fill="#ff0000"/>
<rect x="201" y="309" width="3" height="10" fill="#0000ff"/>
<rect x="204" y="266" width="3" height="44" fill="#0000ff"/>
<rect x="207" y="266" width="3" height="170" fill="#ff0000"/>
<rect x="210" y="406" width="3" height="30" fill="#0000ff"/>
<rect x="213" y="406" width="3" height="19" fill="#ff0000"/>
<rect x="216" y="436" width="3" height="12" fill="#ff0000"/>
<rect x="219" y="427" width="3" height="21" fill="#0000ff"/>
<rect x="222" y="411" width="3" height="17" fill="#0000ff"/>
<rect x="225" y="347" width="3" height="65" fill="#0000ff"/>
<rect x="228" y="294" width="3" height="54" fill="#0000ff"/>
<rect x="231" y="233" width="3" height="62" fill="#0000ff"/>
<rect x="234" y="233" width="3" height="12" fill="#ff0000"/>
<rect x="237" y="212" width="3" height="33" fill="#0000ff"/>
<rect x="240" y="212" width="3" height="32" fill="#ff0000"/>
<rect x="243" y="243" width="3" height="58" fill="#ff0000"/>
<rect x="246" y="255" width="3" height="46" fill="#0000ff"/>
<rect x="249" y="243" width="3" height="13" fill="#0000ff"/>
<rect x="252" y="226" width="3" height="18" fill="#0000ff"/>
<rect x="255" y="226" width="3" height="3" fill="#ff0000"/>
<rect x="257" y="204" width="3" height="25" fill="#0000ff"/>
<rect x="260" y="204" width="3" height="13" fill="#ff0000"/>
<rect x="263" y="216" width="3" height="5" fill="#ff0000"/>
<rect x="266" y="201" width="3" height="20" fill="#0000ff"/>
<rect x="269" y="201" width="3" height="22" fill="#ff0000"/>
<rect x="272" y="221" width="3" height="2" fill="#0000ff"/>
<rect x="275" y="221" width="3" height="38" fill="#ff0000"/>
<rect x="278" y="258" width="3" height="15" fill="#ff0000"/>
<rect x="281" y="272" width="3" height="15" fill="#ff0000"/>
<rect x="284" y="268" width="3" height="19" fill="#0000ff"/>
<rect x="287" y="268" width="3" height="6" fill="#ff0000"/>
<rect x="290" y="273" width="3" height="23" fill="#ff0000"/>
<rect x="293" y="295" width="3" height="68" fill="#ff0000"/>
<rect x="296" y="303" width="3" height="60" fill="#0000ff"/>
<rect x="299" y="251" width="3" height="53" fill="#0000ff"/>
<rect x="302" y="251" width="3" height="13" fill="#ff0000"/>
<rect x="305" y="304" width="3" height="14" fill="#0000ff"/>
<rect x="308" y="304" width="3" height="9" fill="#ff0000"/>
<rect x="311" y="289" width="3" height="24" fill="#0000ff"/>
<rect x="314" y="289" width="3" height="14" fill="#ff0000"/>
<rect x="317" y="242" width="3" height="61" fill="#0000ff"/>
<rect x="320" y="242" width="3" height="1" fill="#0000ff"/>
<rect x="323" y="242" width="3" height="9" fill="#ff0000"/>
<rect x="326" y="242" width="3" height="9" fill="#0000ff"/>
<rect x="329" y="242" width="3" height="28" fill="#ff0000"/>
<rect x="332" y="269" width="3" height="26" fill="#ff0000"/>
<rect x="335" y="285" width="3" height="10" fill="#0000ff"/>
<rect x="338" y="279" width="3" height="7" fill="#0000ff"/>
<rect x="341" y="279" width="3" height="3" fill="#ff0000"/>
<rect x="344" y="268" width="3" height="14" fill="#0000ff"/>
<rect x="347" y="263" width="3" height="5" fill="#0000ff"/>
<rect x="350" y="258" width="3" height="6" fill="#0000ff"/>
<rect x="353" y="258" width="3" height="3" fill="#ff0000"/>
<rect x="356" y="187" width="3" height="74" fill="#0000ff"/>
<rect x="359" y="158" width="3" height="30" fill="#0000ff"/>
<rect x="362" y="155" width="3" height="4" fill="#0000ff"/>
<rect x="365" y="136" width="3" height="20" fill="#0000ff"/>
<rect x="368" y="126" width="3" height="11" fill="#0000ff"/>
<rect x="371" y="126" width="3" height="22" fill="#ff0000"/>
<rect x="374" y="147" width="3" height="17" fill="#ff0000"/>
<rect x="377" y="136" width="3" height="28" fill="#0000ff"/>
<rect x="380" y="136" width="3" height="33" fill="#ff0000"/>
<rect x="383" y="168" width="3" height="42" fill="#ff0000"/>
<rect x="386" y="207" width="3" height="3" fill="#0000ff"/>
<rect x="389" y="179" width="3" height="29" fill="#0000ff"/>
<rect x="392" y="175" width="3" height="5" fill="#0000ff"/>
<rect x="395" y="145" width="3" height="6" fill="#ff0000"/>
<rect x="398" y="122" width="3" height="29" fill="#0000ff"/>
<rect x="401" y="122" width="3" height="59" fill="#ff0000"/>
<rect x="404" y="160" width="3" height="21" fill="#0000ff"/>
<rect x="407" y="157" width="3" height="4" fill="#0000ff"/>
<rect x="410" y="157" width="3" height="25" fill="#ff0000"/>
<rect x="413" y="182" width="3" height="4" fill="#ff0000"/>
<rect x="416" y="185" width="3" height="68" fill="#ff0000"/>
<rect x="419" y="252" width="3" height="36" fill="#ff0000"/>
<rect x="422" y="288" width="3" height="74" fill="#ff0000"/>
<rect x="425" y="357" width="3" height="5" fill="#0000ff"/>
<rect x="428" y="357" width="3" height="5" fill="#ff0000"/>
<rect x="431" y="362" width="3" height="5" fill="#ff0000"/>
<rect x="434" y="356" width="3" height="11" fill="#0000ff"/>
<rect x="437" y="308" width="3" height="48" fill="#0000ff"/>
<rect x="440" y="308" width="3" height="28" fill="#ff0000"/>
<rect x="443" y="335" width="3" height="10" fill="#ff0000"/>
<rect x="446" y="327" width="3" height="18" fill="#0000ff"/>
<rect x="449" y="324" width="3" height="4" fill="#0000ff"/>
<rect x="452" y="320" width="3" height="5" fill="#0000ff"/>
<rect x="455" y="320" width="3" height="22" fill="#ff0000"/>
<rect x="458" y="324" width="3" height="18" fill="#0000ff"/>
<rect x="461" y="322" width="3" height="3" fill="#0000ff"/>
<rect x="464" y="322" width="3" height="6" fill="#ff0000"/>
<rect x="467" y="327" width="3" height="17" fill="#ff0000"/>
<rect x="470" y="341" width="3" height="3" fill="#0000ff"/>
<rect x="473" y="323" width="3" height="19" fill="#0000ff"/>
<rect x="476" y="323" width="3" height="29" fill="#ff0000"/>
<rect x="479" y="351" width="3" height="24" fill="#ff0000"/>
<rect x="482" y="371" width="3" height="4" fill="#0000ff"/>
<rect x="485" y="531" width="3" height="40" fill="#ff0000"/>
</g>
<path d="M135.3 695.6 L117.1 617.2 M113.4 628 L117.1 617.2 L125.4 624.6" fill="none" stroke="#ff0000" stroke-width="2.5" stroke-linecap="round" stroke-linejoin="round"/>
<rect x="574.5" y="77.5" width="77" height="13" fill="#e1ecf3" stroke="#66819b" stroke-width="1" shape-rendering="crispEdges"/>
<text x="576.8" y="88" font-size="10" fill="#0c0c0c" textLength="72.6" lengthAdjust="spacingAndGlyphs" text-rendering="geometricPrecision" stroke="#0c0c0c" stroke-width="0.15">1.1443-1.1411</text>
<rect x="574.5" y="113.5" width="77" height="13" fill="#e1ecf3" stroke="#66819b" stroke-width="1" shape-rendering="crispEdges"/>
<text x="576.8" y="124" font-size="10" fill="#0c0c0c" textLength="72.6" lengthAdjust="spacingAndGlyphs" text-rendering="geometricPrecision" stroke="#0c0c0c" stroke-width="0.15">1.1409-1.1362</text>
<rect x="574.5" y="275.5" width="77" height="13" fill="#e1ecf3" stroke="#66819b" stroke-width="1" shape-rendering="crispEdges"/>
<text x="576.8" y="286" font-size="10" fill="#0c0c0c" textLength="72.6" lengthAdjust="spacingAndGlyphs" text-rendering="geometricPrecision" stroke="#0c0c0c" stroke-width="0.15">1.1248-1.1229</text>
<rect x="574.5" y="409.5" width="77" height="13" fill="#e1ecf3" stroke="#66819b" stroke-width="1" shape-rendering="crispEdges"/>
<text x="576.8" y="420" font-size="10" fill="#0c0c0c" textLength="72.6" lengthAdjust="spacingAndGlyphs" text-rendering="geometricPrecision" stroke="#0c0c0c" stroke-width="0.15">1.1078-1.1120</text>
<rect x="577.5" y="542.5" width="77" height="13" fill="#e1ecf3" stroke="#66819b" stroke-width="1" shape-rendering="crispEdges"/>
<text x="579.8" y="553" font-size="10" fill="#0c0c0c" textLength="72.6" lengthAdjust="spacingAndGlyphs" text-rendering="geometricPrecision" stroke="#0c0c0c" stroke-width="0.15">1.1006-1.0983</text>
<rect x="578.5" y="615.5" width="77" height="13" fill="#e1ecf3" stroke="#66819b" stroke-width="1" shape-rendering="crispEdges"/>
<text x="580.8" y="626" font-size="10" fill="#0c0c0c" textLength="72.6" lengthAdjust="spacingAndGlyphs" text-rendering="geometricPrecision" stroke="#0c0c0c" stroke-width="0.15">1.0886-1.0924</text>
<text x="273.2" y="429.3" font-size="12.5" fill="#0c0c0c" font-weight="bold" textLength="113.9" lengthAdjust="spacingAndGlyphs">Quasimodo swap</text>
<text x="273.2" y="441.9" font-size="12.5" fill="#0c0c0c" font-weight="bold" textLength="30.6" lengthAdjust="spacingAndGlyphs">base</text>
<text x="234.4" y="479.6" font-size="12.5" fill="#0c0c0c" font-weight="bold" textLength="137.7" lengthAdjust="spacingAndGlyphs">Swap area that lines</text>
<text x="234.4" y="492" font-size="12.5" fill="#0c0c0c" font-weight="bold" textLength="195.9" lengthAdjust="spacingAndGlyphs">up nicely just below the daily</text>
<text x="234.4" y="504.1" font-size="12.5" fill="#0c0c0c" font-weight="bold" textLength="87.5" lengthAdjust="spacingAndGlyphs">swap zone at</text>
<text x="326.4" y="504.1" font-size="12.5" fill="#0c0c0c" font-weight="bold" textLength="102.6" lengthAdjust="spacingAndGlyphs">1.1051-1.1000</text>
<text x="15.5" y="64.6" font-size="12" fill="#555" font-weight="bold" textLength="163" lengthAdjust="spacingAndGlyphs">Euro Fx/U.S. Dollar, 240, FX</text>
</svg>
<rect x="697" y="44" width="49" height="2" fill="#000" shape-rendering="crispEdges"/>
<rect x="697" y="64" width="3" height="1" fill="#555555"/>
<text x="702.7" y="68.5" font-size="10.5" fill="#6a6a6a" textLength="38" lengthAdjust="spacingAndGlyphs">1.14500</text>
<rect x="697" y="116.31" width="3" height="1" fill="#555555"/>
<text x="702.7" y="120.81" font-size="10.5" fill="#6a6a6a" textLength="38" lengthAdjust="spacingAndGlyphs">1.14000</text>
<rect x="697" y="168.62" width="3" height="1" fill="#555555"/>
<text x="702.7" y="173.12" font-size="10.5" fill="#6a6a6a" textLength="38" lengthAdjust="spacingAndGlyphs">1.13500</text>
<rect x="697" y="273.23" width="3" height="1" fill="#555555"/>
<text x="702.7" y="277.73" font-size="10.5" fill="#6a6a6a" textLength="38" lengthAdjust="spacingAndGlyphs">1.12500</text>
<rect x="697" y="430.15" width="3" height="1" fill="#555555"/>
<text x="702.7" y="434.65" font-size="10.5" fill="#6a6a6a" textLength="38" lengthAdjust="spacingAndGlyphs">1.11000</text>
<rect x="697" y="482.46" width="3" height="1" fill="#555555"/>
<text x="702.7" y="486.96" font-size="10.5" fill="#6a6a6a" textLength="38" lengthAdjust="spacingAndGlyphs">1.10500</text>
<rect x="697" y="587.08" width="3" height="1" fill="#555555"/>
<text x="702.7" y="591.58" font-size="10.5" fill="#6a6a6a" textLength="38" lengthAdjust="spacingAndGlyphs">1.09500</text>
<rect x="697" y="639.38" width="3" height="1" fill="#555555"/>
<text x="702.7" y="643.88" font-size="10.5" fill="#6a6a6a" textLength="38" lengthAdjust="spacingAndGlyphs">1.09000</text>
<rect x="697" y="691.69" width="3" height="1" fill="#555555"/>
<text x="702.7" y="696.19" font-size="10.5" fill="#6a6a6a" textLength="38" lengthAdjust="spacingAndGlyphs">1.08500</text>
<rect x="697" y="744" width="3" height="1" fill="#555555"/>
<text x="702.7" y="748.5" font-size="10.5" fill="#6a6a6a" textLength="38" lengthAdjust="spacingAndGlyphs">1.08000</text>
<g shape-rendering="crispEdges">
<rect x="696" y="213.5" width="50" height="16" fill="#000"/>
<rect x="696" y="221" width="3" height="1" fill="#fff"/>
</g>
<text x="702.7" y="225.5" font-size="10.5" fill="#fff" textLength="38" lengthAdjust="spacingAndGlyphs" stroke="#fff" stroke-width="0.3">1.13000</text>
<g shape-rendering="crispEdges">
<rect x="696" y="318.5" width="50" height="16" fill="#000"/>
<rect x="696" y="326" width="3" height="1" fill="#fff"/>
</g>
<text x="702.7" y="330.5" font-size="10.5" fill="#fff" textLength="38" lengthAdjust="spacingAndGlyphs" stroke="#fff" stroke-width="0.3">1.12000</text>
<g shape-rendering="crispEdges">
<rect x="696" y="370.5" width="50" height="16" fill="#ff0000"/>
<rect x="696" y="378" width="3" height="1" fill="#fff"/>
</g>
<text x="702.7" y="382.5" font-size="10.5" fill="#fff" textLength="38" lengthAdjust="spacingAndGlyphs" stroke="#fff" stroke-width="0.3">1.11500</text>
<g shape-rendering="crispEdges">
<rect x="696" y="527.5" width="50" height="16" fill="#000"/>
<rect x="696" y="535" width="3" height="1" fill="#fff"/>
</g>
<text x="702.7" y="539.5" font-size="10.5" fill="#fff" textLength="38" lengthAdjust="spacingAndGlyphs" stroke="#fff" stroke-width="0.3">1.10000</text>
<g shape-rendering="crispEdges">
<rect x="696" y="562" width="50" height="16" fill="#ff0000"/>
<rect x="696" y="569.5" width="3" height="1" fill="#fff"/>
</g>
<text x="702.7" y="574" font-size="10.5" fill="#fff" textLength="38" lengthAdjust="spacingAndGlyphs" stroke="#fff" stroke-width="0.3">1.09679</text>
<rect x="40" y="764" width="1" height="2" fill="#555555" shape-rendering="crispEdges"/>
<text x="40.5" y="777" font-size="11" fill="#6a6a6a" text-anchor="middle">25</text>
<rect x="130" y="764" width="1" height="2" fill="#555555" shape-rendering="crispEdges"/>
<text x="130" y="777" font-size="11" fill="#6a6a6a" text-anchor="middle" font-weight="bold">Jun</text>
<rect x="220" y="764" width="1" height="2" fill="#555555" shape-rendering="crispEdges"/>
<text x="220" y="777" font-size="11" fill="#6a6a6a" text-anchor="middle">8</text>
<rect x="309" y="764" width="1" height="2" fill="#555555" shape-rendering="crispEdges"/>
<text x="309.5" y="777" font-size="11" fill="#6a6a6a" text-anchor="middle">15</text>
<rect x="399" y="764" width="1" height="2" fill="#555555" shape-rendering="crispEdges"/>
<text x="399.5" y="777" font-size="11" fill="#6a6a6a" text-anchor="middle">22</text>
<rect x="524" y="764" width="1" height="2" fill="#555555" shape-rendering="crispEdges"/>
<text x="524.5" y="777" font-size="11" fill="#6a6a6a" text-anchor="middle" font-weight="bold">Jul</text>
<rect x="668" y="764" width="1" height="2" fill="#555555" shape-rendering="crispEdges"/>
<text x="669" y="777" font-size="11" fill="#6a6a6a" text-anchor="middle">13</text>
<g shape-rendering="crispEdges">
<rect x="755" y="43" width="743" height="357" fill="#555555"/>
<rect x="756" y="44" width="741" height="355" fill="#fff"/>
<rect x="1445" y="43" width="1" height="336" fill="#555555"/>
<rect x="755" y="378" width="691" height="1" fill="#555555"/>
</g>
<svg x="756" y="44" width="689" height="334" viewBox="756 44 689 334">
<rect x="750" y="355" width="205" height="18" fill="#000" shape-rendering="crispEdges"/>
<rect x="751.7" y="356.7" width="201.6" height="14.6" fill="#54461a"/>
<rect x="753.3" y="358.3" width="198.4" height="11.4" fill="#ffefc0"/>
<rect x="788.5" y="358.5" width="77" height="11" fill="#eee3b3" stroke="#b3a882" stroke-width="1" shape-rendering="crispEdges"/>
<text x="790.8" y="367" font-size="10" fill="#6a6444" textLength="72.6" lengthAdjust="spacingAndGlyphs" text-rendering="geometricPrecision" stroke="#6a6444" stroke-width="0.15">1.0333-1.0502</text>
<rect x="903" y="261" width="180" height="26" fill="#000" shape-rendering="crispEdges"/>
<rect x="904.7" y="262.7" width="176.6" height="22.6" fill="#54461a"/>
<rect x="906.3" y="264.3" width="173.4" height="19.4" fill="#ffefc0"/>
<rect x="936" y="328" width="147" height="28" fill="#000" shape-rendering="crispEdges"/>
<rect x="937.7" y="329.7" width="143.6" height="24.6" fill="#54461a"/>
<rect x="939.3" y="331.3" width="140.4" height="21.4" fill="#ffefc0"/>
<rect x="756" y="241" width="689" height="3" fill="#000" shape-rendering="crispEdges"/>
<g shape-rendering="crispEdges">
<rect x="757" y="62" width="1" height="10" fill="#737375"/>
<rect x="761" y="68" width="1" height="7" fill="#737375"/>
<rect x="765" y="67" width="1" height="16" fill="#737375"/>
<rect x="769" y="68" width="1" height="14" fill="#737375"/>
<rect x="773" y="70" width="1" height="12" fill="#737375"/>
<rect x="777" y="69" width="1" height="7" fill="#737375"/>
<rect x="782" y="65" width="1" height="11" fill="#737375"/>
<rect x="786" y="69" width="1" height="7" fill="#737375"/>
<rect x="790" y="70" width="1" height="14" fill="#737375"/>
<rect x="794" y="79" width="1" height="11" fill="#737375"/>
<rect x="798" y="88" width="1" height="7" fill="#737375"/>
<rect x="802" y="89" width="1" height="9" fill="#737375"/>
<rect x="806" y="90" width="1" height="8" fill="#737375"/>
<rect x="810" y="92" width="1" height="17" fill="#737375"/>
<rect x="814" y="109" width="1" height="9" fill="#737375"/>
<rect x="819" y="114" width="1" height="22" fill="#737375"/>
<rect x="823" y="131" width="1" height="11" fill="#737375"/>
<rect x="827" y="129" width="1" height="17" fill="#737375"/>
<rect x="831" y="138" width="1" height="21" fill="#737375"/>
<rect x="835" y="155" width="1" height="19" fill="#737375"/>
<rect x="839" y="148" width="1" height="26" fill="#737375"/>
<rect x="843" y="139" width="1" height="24" fill="#737375"/>
<rect x="847" y="143" width="1" height="21" fill="#737375"/>
<rect x="851" y="150" width="1" height="26" fill="#737375"/>
<rect x="856" y="167" width="1" height="20" fill="#737375"/>
<rect x="860" y="170" width="1" height="14" fill="#737375"/>
<rect x="864" y="165" width="1" height="21" fill="#737375"/>
<rect x="868" y="171" width="1" height="17" fill="#737375"/>
<rect x="872" y="174" width="1" height="21" fill="#737375"/>
<rect x="876" y="175" width="1" height="22" fill="#737375"/>
<rect x="880" y="168" width="1" height="32" fill="#737375"/>
<rect x="884" y="195" width="1" height="10" fill="#737375"/>
<rect x="888" y="200" width="1" height="21" fill="#737375"/>
<rect x="893" y="222" width="1" height="20" fill="#737375"/>
<rect x="897" y="232" width="1" height="37" fill="#737375"/>
<rect x="901" y="249" width="1" height="52" fill="#737375"/>
<rect x="905" y="273" width="1" height="29" fill="#737375"/>
<rect x="909" y="264" width="1" height="21" fill="#737375"/>
<rect x="913" y="271" width="1" height="16" fill="#737375"/>
<rect x="917" y="270" width="1" height="16" fill="#737375"/>
<rect x="921" y="275" width="1" height="20" fill="#737375"/>
<rect x="925" y="289" width="1" height="38" fill="#737375"/>
<rect x="930" y="320" width="1" height="40" fill="#737375"/>
<rect x="934" y="308" width="1" height="53" fill="#737375"/>
<rect x="938" y="307" width="1" height="26" fill="#737375"/>
<rect x="942" y="309" width="1" height="28" fill="#737375"/>
<rect x="946" y="308" width="1" height="43" fill="#737375"/>
<rect x="950" y="325" width="1" height="30" fill="#737375"/>
<rect x="954" y="320" width="1" height="22" fill="#737375"/>
<rect x="958" y="285" width="1" height="43" fill="#737375"/>
<rect x="962" y="276" width="1" height="29" fill="#737375"/>
<rect x="967" y="269" width="1" height="30" fill="#737375"/>
<rect x="971" y="270" width="1" height="41" fill="#737375"/>
<rect x="975" y="310" width="1" height="18" fill="#737375"/>
<rect x="979" y="277" width="1" height="45" fill="#737375"/>
<rect x="983" y="276" width="1" height="28" fill="#737375"/>
<rect x="987" y="271" width="1" height="23" fill="#737375"/>
<rect x="991" y="274" width="1" height="25" fill="#737375"/>
<rect x="995" y="311" width="1" height="4" fill="#737375"/>
<rect x="756" y="66" width="3" height="6" fill="#ff0000"/>
<rect x="760" y="71" width="3" height="2" fill="#0000ff"/>
<rect x="764" y="70" width="3" height="2" fill="#0000ff"/>
<rect x="768" y="70" width="3" height="10" fill="#ff0000"/>
<rect x="772" y="74" width="3" height="6" fill="#0000ff"/>
<rect x="776" y="70" width="3" height="6" fill="#0000ff"/>
<rect x="781" y="70" width="3" height="6" fill="#ff0000"/>
<rect x="785" y="73" width="3" height="2" fill="#0000ff"/>
<rect x="789" y="74" width="3" height="8" fill="#ff0000"/>
<rect x="793" y="81" width="3" height="9" fill="#ff0000"/>
<rect x="797" y="89" width="3" height="2" fill="#ff0000"/>
<rect x="801" y="90" width="3" height="2" fill="#ff0000"/>
<rect x="805" y="91" width="3" height="2" fill="#ff0000"/>
<rect x="809" y="93" width="3" height="15" fill="#ff0000"/>
<rect x="813" y="111" width="3" height="7" fill="#ff0000"/>
<rect x="818" y="117" width="3" height="17" fill="#ff0000"/>
<rect x="822" y="133" width="3" height="1" fill="#0000ff"/>
<rect x="826" y="131" width="3" height="15" fill="#ff0000"/>
<rect x="830" y="144" width="3" height="15" fill="#ff0000"/>
<rect x="834" y="158" width="3" height="16" fill="#ff0000"/>
<rect x="838" y="163" width="3" height="11" fill="#0000ff"/>
<rect x="842" y="151" width="3" height="12" fill="#0000ff"/>
<rect x="846" y="151" width="3" height="9" fill="#ff0000"/>
<rect x="850" y="158" width="3" height="16" fill="#ff0000"/>
<rect x="855" y="174" width="3" height="6" fill="#ff0000"/>
<rect x="859" y="172" width="3" height="6" fill="#0000ff"/>
<rect x="863" y="171" width="3" height="15" fill="#ff0000"/>
<rect x="867" y="179" width="3" height="9" fill="#0000ff"/>
<rect x="871" y="178" width="3" height="17" fill="#ff0000"/>
<rect x="875" y="178" width="3" height="17" fill="#0000ff"/>
<rect x="879" y="177" width="3" height="23" fill="#ff0000"/>
<rect x="883" y="200" width="3" height="5" fill="#ff0000"/>
<rect x="887" y="204" width="3" height="17" fill="#ff0000"/>
<rect x="892" y="224" width="3" height="11" fill="#ff0000"/>
<rect x="896" y="234" width="3" height="27" fill="#ff0000"/>
<rect x="900" y="261" width="3" height="33" fill="#ff0000"/>
<rect x="904" y="286" width="3" height="12" fill="#0000ff"/>
<rect x="908" y="283" width="3" height="1" fill="#0000ff"/>
<rect x="912" y="276" width="3" height="9" fill="#0000ff"/>
<rect x="916" y="275" width="3" height="3" fill="#ff0000"/>
<rect x="920" y="276" width="3" height="19" fill="#ff0000"/>
<rect x="924" y="295" width="3" height="32" fill="#ff0000"/>
<rect x="929" y="327" width="3" height="32" fill="#ff0000"/>
<rect x="933" y="328" width="3" height="33" fill="#0000ff"/>
<rect x="937" y="322" width="3" height="5" fill="#0000ff"/>
<rect x="941" y="314" width="3" height="9" fill="#0000ff"/>
<rect x="945" y="311" width="3" height="38" fill="#ff0000"/>
<rect x="949" y="330" width="3" height="20" fill="#0000ff"/>
<rect x="953" y="323" width="3" height="6" fill="#0000ff"/>
<rect x="957" y="294" width="3" height="31" fill="#0000ff"/>
<rect x="961" y="292" width="3" height="3" fill="#0000ff"/>
<rect x="966" y="271" width="3" height="23" fill="#0000ff"/>
<rect x="970" y="271" width="3" height="40" fill="#ff0000"/>
<rect x="974" y="311" width="3" height="2" fill="#ff0000"/>
<rect x="978" y="301" width="3" height="13" fill="#0000ff"/>
<rect x="982" y="287" width="3" height="16" fill="#0000ff"/>
<rect x="986" y="280" width="3" height="13" fill="#0000ff"/>
<rect x="990" y="277" width="3" height="21" fill="#ff0000"/>
<rect x="994" y="311" width="3" height="4" fill="#ff0000"/>
</g>
<rect x="1088.5" y="265.5" width="77" height="13" fill="#e1ecf3" stroke="#66819b" stroke-width="1" shape-rendering="crispEdges"/>
<text x="1090.8" y="276" font-size="10" fill="#0c0c0c" textLength="72.6" lengthAdjust="spacingAndGlyphs" text-rendering="geometricPrecision" stroke="#0c0c0c" stroke-width="0.15">1.1532-1.1278</text>
<rect x="1088.5" y="325.5" width="77" height="13" fill="#e1ecf3" stroke="#66819b" stroke-width="1" shape-rendering="crispEdges"/>
<text x="1090.8" y="336" font-size="10" fill="#0c0c0c" textLength="72.6" lengthAdjust="spacingAndGlyphs" text-rendering="geometricPrecision" stroke="#0c0c0c" stroke-width="0.15">1.0519-1.0798</text>
<path d="M1178.2 184.2 H1312.8 A9 9 0 0 1 1321.8 193.2 V219 A9 9 0 0 1 1312.8 228 H1254 L1245.5 241.5 L1237 228 H1178.2 A9 9 0 0 1 1169.2 219 V193.2 A9 9 0 0 1 1178.2 184.2 Z" fill="none" stroke="#ffff66" stroke-opacity="0.55" stroke-width="5.5" stroke-linejoin="round"/>
<path d="M1178.2 184.2 H1312.8 A9 9 0 0 1 1321.8 193.2 V219 A9 9 0 0 1 1312.8 228 H1254 L1245.5 241.5 L1237 228 H1178.2 A9 9 0 0 1 1169.2 219 V193.2 A9 9 0 0 1 1178.2 184.2 Z" fill="#fff" stroke="#ffff00" stroke-width="3" stroke-linejoin="round"/>
<text x="1179" y="204" font-size="12.5" fill="#0c0c0c" font-weight="bold" textLength="133" lengthAdjust="spacingAndGlyphs">Ignored Quasimodo</text>
<text x="1179" y="216.2" font-size="12.5" fill="#0c0c0c" font-weight="bold" textLength="32" lengthAdjust="spacingAndGlyphs">level</text>
<path d="M1242 256 H1291.8 A8 8 0 0 1 1299.8 264 V280.8 A8 8 0 0 1 1291.8 288.8 H1242 A8 8 0 0 1 1234 280.8 V281.2 L1189.5 273.3 L1234 263.6 V264 A8 8 0 0 1 1242 256 Z" fill="none" stroke="#ffff66" stroke-opacity="0.55" stroke-width="5.5" stroke-linejoin="round"/>
<path d="M1242 256 H1291.8 A8 8 0 0 1 1299.8 264 V280.8 A8 8 0 0 1 1291.8 288.8 H1242 A8 8 0 0 1 1234 280.8 V281.2 L1189.5 273.3 L1234 263.6 V264 A8 8 0 0 1 1242 256 Z" fill="#fff" stroke="#ffff00" stroke-width="3" stroke-linejoin="round"/>
<text x="1243.5" y="276.3" font-size="12.5" fill="#0c0c0c" font-weight="bold" textLength="45.5" lengthAdjust="spacingAndGlyphs">Supply</text>
<path d="M1241.3 326 H1301 A8 8 0 0 1 1309 334 V350.8 A8 8 0 0 1 1301 358.8 H1241.3 A8 8 0 0 1 1233.3 350.8 V351 L1189.5 335.5 L1233.3 333.3 V334 A8 8 0 0 1 1241.3 326 Z" fill="none" stroke="#ffff66" stroke-opacity="0.55" stroke-width="5.5" stroke-linejoin="round"/>
<path d="M1241.3 326 H1301 A8 8 0 0 1 1309 334 V350.8 A8 8 0 0 1 1301 358.8 H1241.3 A8 8 0 0 1 1233.3 350.8 V351 L1189.5 335.5 L1233.3 333.3 V334 A8 8 0 0 1 1241.3 326 Z" fill="#fff" stroke="#ffff00" stroke-width="3" stroke-linejoin="round"/>
<text x="1243.5" y="346" font-size="12.5" fill="#0c0c0c" font-weight="bold" textLength="55.5" lengthAdjust="spacingAndGlyphs">Demand</text>
<text x="764.3" y="64.6" font-size="12" fill="#555" font-weight="bold" textLength="153.5" lengthAdjust="spacingAndGlyphs">Euro Fx/U.S. Dollar, W, FX</text>
</svg>
<rect x="1446" y="82" width="3" height="1" fill="#555555"/>
<text x="1451.7" y="86.5" font-size="10.5" fill="#6a6a6a" textLength="38" lengthAdjust="spacingAndGlyphs">1.35000</text>
<rect x="1446" y="127.8" width="3" height="1" fill="#555555"/>
<text x="1451.7" y="132.3" font-size="10.5" fill="#6a6a6a" textLength="38" lengthAdjust="spacingAndGlyphs">1.30000</text>
<rect x="1446" y="173.6" width="3" height="1" fill="#555555"/>
<text x="1451.7" y="178.1" font-size="10.5" fill="#6a6a6a" textLength="38" lengthAdjust="spacingAndGlyphs">1.25000</text>
<rect x="1446" y="219.4" width="3" height="1" fill="#555555"/>
<text x="1451.7" y="223.9" font-size="10.5" fill="#6a6a6a" textLength="38" lengthAdjust="spacingAndGlyphs">1.20000</text>
<rect x="1446" y="265.2" width="3" height="1" fill="#555555"/>
<text x="1451.7" y="269.7" font-size="10.5" fill="#6a6a6a" textLength="38" lengthAdjust="spacingAndGlyphs">1.15000</text>
<rect x="1446" y="356.8" width="3" height="1" fill="#555555"/>
<text x="1451.7" y="361.3" font-size="10.5" fill="#6a6a6a" textLength="38" lengthAdjust="spacingAndGlyphs">1.05000</text>
<g shape-rendering="crispEdges">
<rect x="1445" y="234.5" width="50" height="16" fill="#000"/>
<rect x="1445" y="242" width="3" height="1" fill="#fff"/>
</g>
<text x="1451.7" y="246.5" font-size="10.5" fill="#fff" textLength="38" lengthAdjust="spacingAndGlyphs" stroke="#fff" stroke-width="0.3">1.17456</text>
<g shape-rendering="crispEdges">
<rect x="1445" y="306.3" width="50" height="16" fill="#ff0000"/>
<rect x="1445" y="313.8" width="3" height="1" fill="#fff"/>
</g>
<text x="1451.7" y="318.3" font-size="10.5" fill="#fff" textLength="38" lengthAdjust="spacingAndGlyphs" stroke="#fff" stroke-width="0.3">1.09679</text>
<rect x="765" y="379" width="1" height="2" fill="#555555" shape-rendering="crispEdges"/>
<text x="756" y="392" font-size="11" fill="#6a6a6a">Jun</text>
<rect x="893" y="379" width="1" height="2" fill="#555555" shape-rendering="crispEdges"/>
<text x="893.5" y="392" font-size="11" fill="#6a6a6a" text-anchor="middle" font-weight="bold">2015</text>
<rect x="979" y="379" width="1" height="2" fill="#555555" shape-rendering="crispEdges"/>
<text x="979.5" y="392" font-size="11" fill="#6a6a6a" text-anchor="middle">Jun</text>
<rect x="1106" y="379" width="1" height="2" fill="#555555" shape-rendering="crispEdges"/>
<text x="1106" y="392" font-size="11" fill="#6a6a6a" text-anchor="middle" font-weight="bold">2016</text>
<rect x="1196" y="379" width="1" height="2" fill="#555555" shape-rendering="crispEdges"/>
<text x="1196" y="392" font-size="11" fill="#6a6a6a" text-anchor="middle">Jun</text>
<rect x="1320" y="379" width="1" height="2" fill="#555555" shape-rendering="crispEdges"/>
<text x="1320" y="392" font-size="11" fill="#6a6a6a" text-anchor="middle" font-weight="bold">2017</text>
<rect x="1410" y="379" width="1" height="2" fill="#555555" shape-rendering="crispEdges"/>
<text x="1411" y="392" font-size="11" fill="#6a6a6a" text-anchor="middle">Jun</text>
<g shape-rendering="crispEdges">
<rect x="755" y="428" width="743" height="358" fill="#555555"/>
<rect x="756" y="429" width="741" height="356" fill="#fff"/>
<rect x="1445" y="428" width="1" height="337" fill="#555555"/>
<rect x="755" y="764" width="691" height="1" fill="#555555"/>
</g>
<svg x="756" y="429" width="689" height="335" viewBox="756 429 689 335">
<rect x="779" y="568" width="402" height="19" fill="#000" shape-rendering="crispEdges"/>
<rect x="780.7" y="569.7" width="398.6" height="15.6" fill="#5c5c1e"/>
<rect x="782.3" y="571.3" width="395.4" height="12.4" fill="#ffff99"/>
<rect x="1005" y="590" width="176" height="31" fill="#000" shape-rendering="crispEdges"/>
<rect x="1006.7" y="591.7" width="172.6" height="27.6" fill="#54461a"/>
<rect x="1008.3" y="593.3" width="169.4" height="24.4" fill="#ffefc0"/>
<g shape-rendering="crispEdges">
<rect x="756" y="457.7" width="424" height="3.5" fill="#ff0000" shape-rendering="auto"/>
<rect x="928" y="467.4" width="252" height="2.6" fill="#ff0000" shape-rendering="auto"/>
<rect x="756" y="539" width="689" height="3" fill="#000"/>
<rect x="870" y="638.5" width="310" height="2" fill="#1a1a1a"/>
</g>
<line x1="756" y1="431.9" x2="1180" y2="459.2" stroke="#ff0000" stroke-width="2" stroke-dasharray="6 4"/>
<line x1="780.5" y1="748" x2="1180" y2="652" stroke="#ff0000" stroke-width="2" stroke-dasharray="6 4"/>
<g shape-rendering="crispEdges">
<rect x="756" y="530" width="1" height="38" fill="#737375"/>
<rect x="760" y="552" width="1" height="38" fill="#737375"/>
<rect x="764" y="576" width="1" height="59" fill="#737375"/>
<rect x="768" y="614" width="1" height="25" fill="#737375"/>
<rect x="773" y="629" width="1" height="49" fill="#737375"/>
<rect x="777" y="670" width="1" height="62" fill="#737375"/>
<rect x="781" y="680" width="1" height="57" fill="#737375"/>
<rect x="785" y="695" width="1" height="50" fill="#737375"/>
<rect x="789" y="699" width="1" height="47" fill="#737375"/>
<rect x="793" y="690" width="1" height="30" fill="#737375"/>
<rect x="797" y="575" width="1" height="136" fill="#737375"/>
<rect x="801" y="610" width="1" height="91" fill="#737375"/>
<rect x="805" y="621" width="1" height="70" fill="#737375"/>
<rect x="810" y="595" width="1" height="60" fill="#737375"/>
<rect x="814" y="577" width="1" height="42" fill="#737375"/>
<rect x="818" y="582" width="1" height="34" fill="#737375"/>
<rect x="822" y="570" width="1" height="59" fill="#737375"/>
<rect x="826" y="601" width="1" height="44" fill="#737375"/>
<rect x="830" y="617" width="1" height="26" fill="#737375"/>
<rect x="834" y="632" width="1" height="40" fill="#737375"/>
<rect x="838" y="646" width="1" height="24" fill="#737375"/>
<rect x="842" y="614" width="1" height="46" fill="#737375"/>
<rect x="847" y="578" width="1" height="49" fill="#737375"/>
<rect x="851" y="575" width="1" height="38" fill="#737375"/>
<rect x="855" y="599" width="1" height="46" fill="#737375"/>
<rect x="859" y="619" width="1" height="38" fill="#737375"/>
<rect x="863" y="649" width="1" height="45" fill="#737375"/>
<rect x="867" y="680" width="1" height="35" fill="#737375"/>
<rect x="871" y="699" width="1" height="30" fill="#737375"/>
<rect x="875" y="673" width="1" height="53" fill="#737375"/>
<rect x="879" y="675" width="1" height="39" fill="#737375"/>
<rect x="884" y="636" width="1" height="46" fill="#737375"/>
<rect x="888" y="631" width="1" height="34" fill="#737375"/>
<rect x="892" y="636" width="1" height="36" fill="#737375"/>
<rect x="896" y="651" width="1" height="36" fill="#737375"/>
<rect x="900" y="645" width="1" height="28" fill="#737375"/>
<rect x="904" y="632" width="1" height="54" fill="#737375"/>
<rect x="908" y="616" width="1" height="34" fill="#737375"/>
<rect x="912" y="608" width="1" height="32" fill="#737375"/>
<rect x="916" y="589" width="1" height="39" fill="#737375"/>
<rect x="921" y="530" width="1" height="68" fill="#737375"/>
<rect x="925" y="507" width="1" height="58" fill="#737375"/>
<rect x="929" y="499" width="1" height="35" fill="#737375"/>
<rect x="933" y="519" width="1" height="30" fill="#737375"/>
<rect x="937" y="519" width="1" height="47" fill="#737375"/>
<rect x="941" y="476" width="1" height="58" fill="#737375"/>
<rect x="945" y="469" width="1" height="46" fill="#737375"/>
<rect x="949" y="500" width="1" height="32" fill="#737375"/>
<rect x="953" y="525" width="1" height="21" fill="#737375"/>
<rect x="958" y="503" width="1" height="43" fill="#737375"/>
<rect x="962" y="472" width="1" height="54" fill="#737375"/>
<rect x="966" y="453" width="1" height="31" fill="#737375"/>
<rect x="970" y="447" width="1" height="42" fill="#737375"/>
<rect x="974" y="452" width="1" height="45" fill="#737375"/>
<rect x="978" y="489" width="1" height="61" fill="#737375"/>
<rect x="982" y="541" width="1" height="26" fill="#737375"/>
<rect x="986" y="532" width="1" height="30" fill="#737375"/>
<rect x="990" y="524" width="1" height="60" fill="#737375"/>
<rect x="995" y="583" width="1" height="15" fill="#737375"/>
<rect x="999" y="592" width="1" height="35" fill="#737375"/>
<rect x="1003" y="607" width="1" height="32" fill="#737375"/>
<rect x="1007" y="598" width="1" height="28" fill="#737375"/>
<rect x="1011" y="584" width="1" height="24" fill="#737375"/>
<rect x="1015" y="589" width="1" height="31" fill="#737375"/>
<rect x="1019" y="528" width="1" height="83" fill="#737375"/>
<rect x="1023" y="501" width="1" height="61" fill="#737375"/>
<rect x="1028" y="473" width="1" height="47" fill="#737375"/>
<rect x="1032" y="502" width="1" height="69" fill="#737375"/>
<rect x="1036" y="494" width="1" height="67" fill="#737375"/>
<rect x="1040" y="483" width="1" height="39" fill="#737375"/>
<rect x="1044" y="471" width="1" height="37" fill="#737375"/>
<rect x="1048" y="488" width="1" height="44" fill="#737375"/>
<rect x="1052" y="498" width="1" height="43" fill="#737375"/>
<rect x="1056" y="498" width="1" height="32" fill="#737375"/>
<rect x="1060" y="488" width="1" height="37" fill="#737375"/>
<rect x="1065" y="479" width="1" height="46" fill="#737375"/>
<rect x="1069" y="456" width="1" height="31" fill="#737375"/>
<rect x="1073" y="467" width="1" height="32" fill="#737375"/>
<rect x="1077" y="464" width="1" height="29" fill="#737375"/>
<rect x="1081" y="482" width="1" height="64" fill="#737375"/>
<rect x="1085" y="516" width="1" height="24" fill="#737375"/>
<rect x="1089" y="518" width="1" height="22" fill="#737375"/>
<rect x="1093" y="520" width="1" height="27" fill="#737375"/>
<rect x="1097" y="583" width="1" height="13" fill="#737375"/>
<rect x="755" y="532" width="3" height="32" fill="#ff0000"/>
<rect x="759" y="563" width="3" height="16" fill="#ff0000"/>
<rect x="763" y="578" width="3" height="57" fill="#ff0000"/>
<rect x="767" y="631" width="3" height="7" fill="#0000ff"/>
<rect x="772" y="631" width="3" height="46" fill="#ff0000"/>
<rect x="776" y="676" width="3" height="46" fill="#ff0000"/>
<rect x="780" y="695" width="3" height="27" fill="#0000ff"/>
<rect x="784" y="695" width="3" height="43" fill="#ff0000"/>
<rect x="788" y="715" width="3" height="30" fill="#0000ff"/>
<rect x="792" y="706" width="3" height="10" fill="#0000ff"/>
<rect x="796" y="628" width="3" height="79" fill="#0000ff"/>
<rect x="800" y="628" width="3" height="61" fill="#ff0000"/>
<rect x="804" y="641" width="3" height="48" fill="#0000ff"/>
<rect x="809" y="602" width="3" height="33" fill="#0000ff"/>
<rect x="813" y="602" width="3" height="7" fill="#ff0000"/>
<rect x="817" y="595" width="3" height="14" fill="#0000ff"/>
<rect x="821" y="595" width="3" height="27" fill="#ff0000"/>
<rect x="825" y="620" width="3" height="2" fill="#0000ff"/>
<rect x="829" y="620" width="3" height="17" fill="#ff0000"/>
<rect x="833" y="636" width="3" height="31" fill="#ff0000"/>
<rect x="837" y="657" width="3" height="10" fill="#0000ff"/>
<rect x="841" y="622" width="3" height="36" fill="#0000ff"/>
<rect x="846" y="596" width="3" height="27" fill="#0000ff"/>
<rect x="850" y="586" width="3" height="24" fill="#ff0000"/>
<rect x="854" y="609" width="3" height="33" fill="#ff0000"/>
<rect x="858" y="641" width="3" height="12" fill="#ff0000"/>
<rect x="862" y="652" width="3" height="37" fill="#ff0000"/>
<rect x="866" y="688" width="3" height="18" fill="#ff0000"/>
<rect x="870" y="710" width="3" height="6" fill="#ff0000"/>
<rect x="874" y="689" width="3" height="27" fill="#0000ff"/>
<rect x="878" y="681" width="3" height="9" fill="#0000ff"/>
<rect x="883" y="657" width="3" height="25" fill="#0000ff"/>
<rect x="887" y="646" width="3" height="12" fill="#0000ff"/>
<rect x="891" y="639" width="3" height="26" fill="#ff0000"/>
<rect x="895" y="664" width="3" height="2" fill="#ff0000"/>
<rect x="899" y="665" width="3" height="4" fill="#ff0000"/>
<rect x="903" y="639" width="3" height="30" fill="#0000ff"/>
<rect x="907" y="626" width="3" height="13" fill="#0000ff"/>
<rect x="911" y="619" width="3" height="9" fill="#0000ff"/>
<rect x="915" y="592" width="3" height="28" fill="#0000ff"/>
<rect x="920" y="548" width="3" height="45" fill="#0000ff"/>
<rect x="924" y="519" width="3" height="30" fill="#0000ff"/>
<rect x="928" y="519" width="3" height="10" fill="#ff0000"/>
<rect x="932" y="530" width="3" height="14" fill="#ff0000"/>
<rect x="936" y="531" width="3" height="13" fill="#0000ff"/>
<rect x="940" y="483" width="3" height="49" fill="#0000ff"/>
<rect x="944" y="483" width="3" height="25" fill="#ff0000"/>
<rect x="948" y="507" width="3" height="18" fill="#ff0000"/>
<rect x="952" y="527" width="3" height="14" fill="#ff0000"/>
<rect x="957" y="523" width="3" height="18" fill="#0000ff"/>
<rect x="961" y="480" width="3" height="44" fill="#0000ff"/>
<rect x="965" y="464" width="3" height="17" fill="#0000ff"/>
<rect x="969" y="454" width="3" height="11" fill="#0000ff"/>
<rect x="973" y="453" width="3" height="41" fill="#ff0000"/>
<rect x="977" y="493" width="3" height="49" fill="#ff0000"/>
<rect x="981" y="541" width="3" height="18" fill="#ff0000"/>
<rect x="985" y="553" width="3" height="6" fill="#0000ff"/>
<rect x="989" y="553" width="3" height="31" fill="#ff0000"/>
<rect x="994" y="585" width="3" height="9" fill="#ff0000"/>
<rect x="998" y="593" width="3" height="32" fill="#ff0000"/>
<rect x="1002" y="615" width="3" height="10" fill="#0000ff"/>
<rect x="1006" y="602" width="3" height="14" fill="#0000ff"/>
<rect x="1010" y="589" width="3" height="14" fill="#0000ff"/>
<rect x="1014" y="592" width="3" height="17" fill="#ff0000"/>
<rect x="1018" y="541" width="3" height="68" fill="#0000ff"/>
<rect x="1022" y="505" width="3" height="37" fill="#0000ff"/>
<rect x="1027" y="505" width="3" height="11" fill="#ff0000"/>
<rect x="1031" y="515" width="3" height="40" fill="#ff0000"/>
<rect x="1035" y="499" width="3" height="59" fill="#0000ff"/>
<rect x="1039" y="499" width="3" height="4" fill="#ff0000"/>
<rect x="1043" y="490" width="3" height="13" fill="#0000ff"/>
<rect x="1047" y="490" width="3" height="20" fill="#ff0000"/>
<rect x="1051" y="508" width="3" height="2" fill="#0000ff"/>
<rect x="1055" y="502" width="3" height="22" fill="#0000ff"/>
<rect x="1059" y="502" width="3" height="11" fill="#ff0000"/>
<rect x="1064" y="486" width="3" height="27" fill="#0000ff"/>
<rect x="1068" y="479" width="3" height="8" fill="#0000ff"/>
<rect x="1072" y="479" width="3" height="5" fill="#ff0000"/>
<rect x="1076" y="474" width="3" height="12" fill="#ff0000"/>
<rect x="1080" y="485" width="3" height="52" fill="#ff0000"/>
<rect x="1084" y="526" width="3" height="11" fill="#0000ff"/>
<rect x="1088" y="526" width="3" height="1" fill="#ff0000"/>
<rect x="1092" y="526" width="3" height="14" fill="#ff0000"/>
<rect x="1096" y="584" width="3" height="12" fill="#ff0000"/>
</g>
<rect x="1186.5" y="444.5" width="37" height="13" fill="#e1ecf3" stroke="#66819b" stroke-width="1" shape-rendering="crispEdges"/>
<text x="1188.8" y="455" font-size="10" fill="#0c0c0c" textLength="32.6" lengthAdjust="spacingAndGlyphs" text-rendering="geometricPrecision" stroke="#0c0c0c" stroke-width="0.15">1.1421</text>
<rect x="1186.5" y="460.5" width="37" height="13" fill="#e1ecf3" stroke="#66819b" stroke-width="1" shape-rendering="crispEdges"/>
<text x="1188.8" y="471" font-size="10" fill="#0c0c0c" textLength="32.6" lengthAdjust="spacingAndGlyphs" text-rendering="geometricPrecision" stroke="#0c0c0c" stroke-width="0.15">1.1390</text>
<rect x="1186.5" y="565.5" width="77" height="13" fill="#e1ecf3" stroke="#66819b" stroke-width="1" shape-rendering="crispEdges"/>
<text x="1188.8" y="576" font-size="10" fill="#0c0c0c" textLength="72.6" lengthAdjust="spacingAndGlyphs" text-rendering="geometricPrecision" stroke="#0c0c0c" stroke-width="0.15">1.1051-1.1000</text>
<rect x="1186.5" y="587.5" width="77" height="13" fill="#e1ecf3" stroke="#66819b" stroke-width="1" shape-rendering="crispEdges"/>
<text x="1188.8" y="598" font-size="10" fill="#0c0c0c" textLength="72.6" lengthAdjust="spacingAndGlyphs" text-rendering="geometricPrecision" stroke="#0c0c0c" stroke-width="0.15">1.0886-1.0978</text>
<rect x="1190.5" y="629.5" width="37" height="13" fill="#e1ecf3" stroke="#66819b" stroke-width="1" shape-rendering="crispEdges"/>
<text x="1192.8" y="640" font-size="10" fill="#0c0c0c" textLength="32.6" lengthAdjust="spacingAndGlyphs" text-rendering="geometricPrecision" stroke="#0c0c0c" stroke-width="0.15">1.0819</text>
<text x="1233.3" y="456.9" font-size="12.5" fill="#0c0c0c" font-weight="bold" textLength="160.4" lengthAdjust="spacingAndGlyphs">Quasimodo cluster zone</text>
<text x="1233.3" y="468.6" font-size="12.5" fill="#0c0c0c" font-weight="bold" textLength="171.8" lengthAdjust="spacingAndGlyphs">located within the weekly</text>
<text x="1233.3" y="480.3" font-size="12.5" fill="#0c0c0c" font-weight="bold" textLength="94.6" lengthAdjust="spacingAndGlyphs">supply area at</text>
<text x="1332.9" y="480.3" font-size="12.5" fill="#0c0c0c" font-weight="bold" textLength="102.6" lengthAdjust="spacingAndGlyphs">1.1532-1.1278</text>
<text x="805.2" y="564.8" font-size="12.5" fill="#0c0c0c" font-weight="bold" textLength="70.5" lengthAdjust="spacingAndGlyphs">Swap area</text>
<text x="764.5" y="449.5" font-size="12" fill="#555" font-weight="bold" textLength="149" lengthAdjust="spacingAndGlyphs">Euro Fx/U.S. Dollar, D, FX</text>
</svg>
<rect x="1446" y="435.9" width="3" height="1" fill="#555555"/>
<text x="1451.7" y="440.4" font-size="10.5" fill="#6a6a6a" textLength="38" lengthAdjust="spacingAndGlyphs">1.15000</text>
<rect x="1446" y="465.7" width="3" height="1" fill="#555555"/>
<text x="1451.7" y="470.2" font-size="10.5" fill="#6a6a6a" textLength="38" lengthAdjust="spacingAndGlyphs">1.14000</text>
<rect x="1446" y="495.5" width="3" height="1" fill="#555555"/>
<text x="1451.7" y="500" font-size="10.5" fill="#6a6a6a" textLength="38" lengthAdjust="spacingAndGlyphs">1.13000</text>
<rect x="1446" y="525.3" width="3" height="1" fill="#555555"/>
<text x="1451.7" y="529.8" font-size="10.5" fill="#6a6a6a" textLength="38" lengthAdjust="spacingAndGlyphs">1.12000</text>
<rect x="1446" y="555.1" width="3" height="1" fill="#555555"/>
<text x="1451.7" y="559.6" font-size="10.5" fill="#6a6a6a" textLength="38" lengthAdjust="spacingAndGlyphs">1.11000</text>
<rect x="1446" y="584.9" width="3" height="1" fill="#555555"/>
<text x="1451.7" y="589.4" font-size="10.5" fill="#6a6a6a" textLength="38" lengthAdjust="spacingAndGlyphs">1.10000</text>
<rect x="1446" y="614.7" width="3" height="1" fill="#555555"/>
<text x="1451.7" y="619.2" font-size="10.5" fill="#6a6a6a" textLength="38" lengthAdjust="spacingAndGlyphs">1.09000</text>
<rect x="1446" y="644.5" width="3" height="1" fill="#555555"/>
<text x="1451.7" y="649" font-size="10.5" fill="#6a6a6a" textLength="38" lengthAdjust="spacingAndGlyphs">1.08000</text>
<rect x="1446" y="674.3" width="3" height="1" fill="#555555"/>
<text x="1451.7" y="678.8" font-size="10.5" fill="#6a6a6a" textLength="38" lengthAdjust="spacingAndGlyphs">1.07000</text>
<rect x="1446" y="704.1" width="3" height="1" fill="#555555"/>
<text x="1451.7" y="708.6" font-size="10.5" fill="#6a6a6a" textLength="38" lengthAdjust="spacingAndGlyphs">1.06000</text>
<rect x="1446" y="733.9" width="3" height="1" fill="#555555"/>
<text x="1451.7" y="738.4" font-size="10.5" fill="#6a6a6a" textLength="38" lengthAdjust="spacingAndGlyphs">1.05000</text>
<g shape-rendering="crispEdges">
<rect x="1445" y="533" width="50" height="16" fill="#000"/>
<rect x="1445" y="540.5" width="3" height="1" fill="#fff"/>
</g>
<text x="1451.7" y="545" font-size="10.5" fill="#fff" textLength="38" lengthAdjust="spacingAndGlyphs" stroke="#fff" stroke-width="0.3">1.11480</text>
<g shape-rendering="crispEdges">
<rect x="1445" y="587" width="50" height="16" fill="#ff0000"/>
<rect x="1445" y="594.5" width="3" height="1" fill="#fff"/>
</g>
<text x="1451.7" y="599" font-size="10.5" fill="#fff" textLength="38" lengthAdjust="spacingAndGlyphs" stroke="#fff" stroke-width="0.3">1.09679</text>
<rect x="838" y="765" width="1" height="2" fill="#555555" shape-rendering="crispEdges"/>
<text x="838.5" y="778" font-size="11" fill="#6a6a6a" text-anchor="middle" font-weight="bold">Apr</text>
<rect x="929" y="765" width="1" height="2" fill="#555555" shape-rendering="crispEdges"/>
<text x="929.5" y="778" font-size="11" fill="#6a6a6a" text-anchor="middle" font-weight="bold">May</text>
<rect x="1014" y="765" width="1" height="2" fill="#555555" shape-rendering="crispEdges"/>
<text x="1015" y="778" font-size="11" fill="#6a6a6a" text-anchor="middle" font-weight="bold">Jun</text>
<rect x="1106" y="765" width="1" height="2" fill="#555555" shape-rendering="crispEdges"/>
<text x="1106" y="778" font-size="11" fill="#6a6a6a" text-anchor="middle" font-weight="bold">Jul</text>
<rect x="1200" y="765" width="1" height="2" fill="#555555" shape-rendering="crispEdges"/>
<text x="1200" y="778" font-size="11" fill="#6a6a6a" text-anchor="middle" font-weight="bold">Aug</text>
<rect x="1287" y="765" width="1" height="2" fill="#555555" shape-rendering="crispEdges"/>
<text x="1287.3" y="778" font-size="11" fill="#6a6a6a" text-anchor="middle" font-weight="bold">Sep</text>
<rect x="1378" y="765" width="1" height="2" fill="#555555" shape-rendering="crispEdges"/>
<text x="1378" y="778" font-size="11" fill="#6a6a6a" text-anchor="middle" font-weight="bold">Oct</text>
</svg></body></html>
